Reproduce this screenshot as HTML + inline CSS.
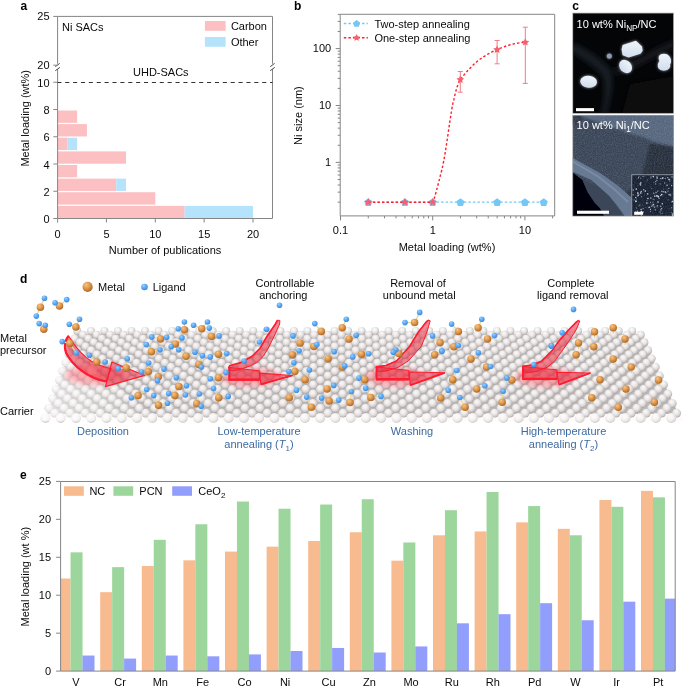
<!DOCTYPE html>
<html><head><meta charset="utf-8"><style>
html,body{margin:0;padding:0;background:#fff;width:685px;height:686px;overflow:hidden}
svg{display:block;font-family:"Liberation Sans",sans-serif;will-change:transform}
</style></head><body>
<svg width="685" height="686" viewBox="0 0 685 686">
<text x="20.50" y="9.80" font-size="12" text-anchor="start" fill="#000" font-weight="bold" >a</text>
<text x="294.00" y="9.80" font-size="12" text-anchor="start" fill="#000" font-weight="bold" >b</text>
<text x="572.20" y="10.10" font-size="12" text-anchor="start" fill="#000" font-weight="bold" >c</text>
<text x="20.00" y="283.40" font-size="12" text-anchor="start" fill="#000" font-weight="bold" >d</text>
<text x="20.00" y="478.80" font-size="12" text-anchor="start" fill="#000" font-weight="bold" >e</text>
<rect x="57.60" y="205.88" width="127.01" height="12.32" fill="#fcbfc2" />
<rect x="184.61" y="205.88" width="68.39" height="12.32" fill="#b5e3fb" />
<rect x="57.60" y="192.25" width="97.70" height="12.32" fill="#fcbfc2" />
<rect x="57.60" y="178.62" width="58.62" height="12.32" fill="#fcbfc2" />
<rect x="116.22" y="178.62" width="9.77" height="12.32" fill="#b5e3fb" />
<rect x="57.60" y="165.00" width="19.54" height="12.32" fill="#fcbfc2" />
<rect x="57.60" y="151.38" width="68.39" height="12.32" fill="#fcbfc2" />
<rect x="57.60" y="137.75" width="9.77" height="12.32" fill="#fcbfc2" />
<rect x="67.37" y="137.75" width="9.77" height="12.32" fill="#b5e3fb" />
<rect x="57.60" y="124.12" width="29.31" height="12.32" fill="#fcbfc2" />
<rect x="57.60" y="110.50" width="19.54" height="12.33" fill="#fcbfc2" />
<line x1="57.60" y1="16.40" x2="272.50" y2="16.40" stroke="#858585" stroke-width="1" />
<line x1="57.60" y1="218.50" x2="272.50" y2="218.50" stroke="#858585" stroke-width="1" />
<line x1="57.60" y1="16.40" x2="57.60" y2="63.80" stroke="#858585" stroke-width="1" />
<line x1="57.60" y1="69.20" x2="57.60" y2="218.50" stroke="#858585" stroke-width="1" />
<line x1="272.50" y1="16.40" x2="272.50" y2="63.80" stroke="#858585" stroke-width="1" />
<line x1="272.50" y1="69.20" x2="272.50" y2="218.50" stroke="#858585" stroke-width="1" />
<line x1="55.30" y1="66.70" x2="59.70" y2="63.40" stroke="#333" stroke-width="0.9" />
<line x1="55.30" y1="70.70" x2="59.90" y2="67.40" stroke="#333" stroke-width="0.9" />
<line x1="270.20" y1="66.70" x2="274.60" y2="63.40" stroke="#333" stroke-width="0.9" />
<line x1="270.20" y1="70.70" x2="274.80" y2="67.40" stroke="#333" stroke-width="0.9" />
<line x1="57.30" y1="82.40" x2="272.50" y2="82.40" stroke="#333" stroke-width="1.05" stroke-dasharray="4.1,3.78"/>
<line x1="53.30" y1="218.50" x2="57.60" y2="218.50" stroke="#858585" stroke-width="1" />
<text x="49.60" y="223.00" font-size="11" text-anchor="end" fill="#0a0a0a" font-weight="normal" >0</text>
<line x1="53.30" y1="191.25" x2="57.60" y2="191.25" stroke="#858585" stroke-width="1" />
<text x="49.60" y="195.75" font-size="11" text-anchor="end" fill="#0a0a0a" font-weight="normal" >2</text>
<line x1="53.30" y1="164.00" x2="57.60" y2="164.00" stroke="#858585" stroke-width="1" />
<text x="49.60" y="168.50" font-size="11" text-anchor="end" fill="#0a0a0a" font-weight="normal" >4</text>
<line x1="53.30" y1="136.75" x2="57.60" y2="136.75" stroke="#858585" stroke-width="1" />
<text x="49.60" y="141.25" font-size="11" text-anchor="end" fill="#0a0a0a" font-weight="normal" >6</text>
<line x1="53.30" y1="109.50" x2="57.60" y2="109.50" stroke="#858585" stroke-width="1" />
<text x="49.60" y="114.00" font-size="11" text-anchor="end" fill="#0a0a0a" font-weight="normal" >8</text>
<line x1="53.30" y1="82.25" x2="57.60" y2="82.25" stroke="#858585" stroke-width="1" />
<text x="49.60" y="86.75" font-size="11" text-anchor="end" fill="#0a0a0a" font-weight="normal" >10</text>
<line x1="53.30" y1="65.20" x2="57.60" y2="65.20" stroke="#858585" stroke-width="1" />
<text x="49.60" y="69.20" font-size="11" text-anchor="end" fill="#0a0a0a" font-weight="normal" >20</text>
<line x1="53.30" y1="16.40" x2="57.60" y2="16.40" stroke="#858585" stroke-width="1" />
<text x="49.60" y="20.40" font-size="11" text-anchor="end" fill="#0a0a0a" font-weight="normal" >25</text>
<line x1="57.60" y1="218.50" x2="57.60" y2="222.50" stroke="#858585" stroke-width="1" />
<text x="57.60" y="238.00" font-size="11" text-anchor="middle" fill="#0a0a0a" font-weight="normal" >0</text>
<line x1="106.45" y1="218.50" x2="106.45" y2="222.50" stroke="#858585" stroke-width="1" />
<text x="106.45" y="238.00" font-size="11" text-anchor="middle" fill="#0a0a0a" font-weight="normal" >5</text>
<line x1="155.30" y1="218.50" x2="155.30" y2="222.50" stroke="#858585" stroke-width="1" />
<text x="155.30" y="238.00" font-size="11" text-anchor="middle" fill="#0a0a0a" font-weight="normal" >10</text>
<line x1="204.15" y1="218.50" x2="204.15" y2="222.50" stroke="#858585" stroke-width="1" />
<text x="204.15" y="238.00" font-size="11" text-anchor="middle" fill="#0a0a0a" font-weight="normal" >15</text>
<line x1="253.00" y1="218.50" x2="253.00" y2="222.50" stroke="#858585" stroke-width="1" />
<text x="253.00" y="238.00" font-size="11" text-anchor="middle" fill="#0a0a0a" font-weight="normal" >20</text>
<text x="165.05" y="253.80" font-size="11" text-anchor="middle" fill="#0a0a0a" font-weight="normal" >Number of publications</text>
<text x="0.00" y="0.00" font-size="11" text-anchor="middle" fill="#0a0a0a" font-weight="normal" transform="translate(29.2,118.3) rotate(-90)">Metal loading (wt%)</text>
<text x="62.00" y="31.10" font-size="11" text-anchor="start" fill="#0a0a0a" font-weight="normal" >Ni SACs</text>
<text x="133.00" y="75.60" font-size="11" text-anchor="start" fill="#0a0a0a" font-weight="normal" >UHD-SACs</text>
<rect x="204.90" y="21.00" width="20.70" height="9.80" fill="#fcbfc2" />
<text x="230.90" y="30.20" font-size="11" text-anchor="start" fill="#0a0a0a" font-weight="normal" >Carbon</text>
<rect x="204.90" y="37.00" width="20.70" height="9.80" fill="#b5e3fb" />
<text x="230.90" y="46.30" font-size="11" text-anchor="start" fill="#0a0a0a" font-weight="normal" >Other</text>
<line x1="340.20" y1="14.30" x2="554.70" y2="14.30" stroke="#858585" stroke-width="1" />
<line x1="340.20" y1="215.90" x2="554.70" y2="215.90" stroke="#858585" stroke-width="1" />
<line x1="340.20" y1="14.30" x2="340.20" y2="215.90" stroke="#858585" stroke-width="1" />
<line x1="554.70" y1="14.30" x2="554.70" y2="215.90" stroke="#858585" stroke-width="1" />
<line x1="335.70" y1="162.40" x2="340.20" y2="162.40" stroke="#858585" stroke-width="1" />
<text x="331.20" y="165.90" font-size="11" text-anchor="end" fill="#0a0a0a" font-weight="normal" >1</text>
<line x1="335.70" y1="105.50" x2="340.20" y2="105.50" stroke="#858585" stroke-width="1" />
<text x="331.20" y="109.00" font-size="11" text-anchor="end" fill="#0a0a0a" font-weight="normal" >10</text>
<line x1="335.70" y1="48.60" x2="340.20" y2="48.60" stroke="#858585" stroke-width="1" />
<text x="331.20" y="52.10" font-size="11" text-anchor="end" fill="#0a0a0a" font-weight="normal" >100</text>
<line x1="337.70" y1="202.17" x2="340.20" y2="202.17" stroke="#858585" stroke-width="1" />
<line x1="337.70" y1="192.15" x2="340.20" y2="192.15" stroke="#858585" stroke-width="1" />
<line x1="337.70" y1="185.04" x2="340.20" y2="185.04" stroke="#858585" stroke-width="1" />
<line x1="337.70" y1="179.53" x2="340.20" y2="179.53" stroke="#858585" stroke-width="1" />
<line x1="337.70" y1="175.02" x2="340.20" y2="175.02" stroke="#858585" stroke-width="1" />
<line x1="337.70" y1="171.21" x2="340.20" y2="171.21" stroke="#858585" stroke-width="1" />
<line x1="337.70" y1="167.91" x2="340.20" y2="167.91" stroke="#858585" stroke-width="1" />
<line x1="337.70" y1="165.00" x2="340.20" y2="165.00" stroke="#858585" stroke-width="1" />
<line x1="337.70" y1="145.27" x2="340.20" y2="145.27" stroke="#858585" stroke-width="1" />
<line x1="337.70" y1="135.25" x2="340.20" y2="135.25" stroke="#858585" stroke-width="1" />
<line x1="337.70" y1="128.14" x2="340.20" y2="128.14" stroke="#858585" stroke-width="1" />
<line x1="337.70" y1="122.63" x2="340.20" y2="122.63" stroke="#858585" stroke-width="1" />
<line x1="337.70" y1="118.12" x2="340.20" y2="118.12" stroke="#858585" stroke-width="1" />
<line x1="337.70" y1="114.31" x2="340.20" y2="114.31" stroke="#858585" stroke-width="1" />
<line x1="337.70" y1="111.01" x2="340.20" y2="111.01" stroke="#858585" stroke-width="1" />
<line x1="337.70" y1="108.10" x2="340.20" y2="108.10" stroke="#858585" stroke-width="1" />
<line x1="337.70" y1="88.37" x2="340.20" y2="88.37" stroke="#858585" stroke-width="1" />
<line x1="337.70" y1="78.35" x2="340.20" y2="78.35" stroke="#858585" stroke-width="1" />
<line x1="337.70" y1="71.24" x2="340.20" y2="71.24" stroke="#858585" stroke-width="1" />
<line x1="337.70" y1="65.73" x2="340.20" y2="65.73" stroke="#858585" stroke-width="1" />
<line x1="337.70" y1="61.22" x2="340.20" y2="61.22" stroke="#858585" stroke-width="1" />
<line x1="337.70" y1="57.41" x2="340.20" y2="57.41" stroke="#858585" stroke-width="1" />
<line x1="337.70" y1="54.11" x2="340.20" y2="54.11" stroke="#858585" stroke-width="1" />
<line x1="337.70" y1="51.20" x2="340.20" y2="51.20" stroke="#858585" stroke-width="1" />
<line x1="337.70" y1="31.47" x2="340.20" y2="31.47" stroke="#858585" stroke-width="1" />
<line x1="337.70" y1="21.45" x2="340.20" y2="21.45" stroke="#858585" stroke-width="1" />
<line x1="337.70" y1="14.34" x2="340.20" y2="14.34" stroke="#858585" stroke-width="1" />
<line x1="340.50" y1="215.90" x2="340.50" y2="220.40" stroke="#858585" stroke-width="1" />
<text x="340.50" y="234.40" font-size="11" text-anchor="middle" fill="#0a0a0a" font-weight="normal" >0.1</text>
<line x1="432.70" y1="215.90" x2="432.70" y2="220.40" stroke="#858585" stroke-width="1" />
<text x="432.70" y="234.40" font-size="11" text-anchor="middle" fill="#0a0a0a" font-weight="normal" >1</text>
<line x1="524.90" y1="215.90" x2="524.90" y2="220.40" stroke="#858585" stroke-width="1" />
<text x="524.90" y="234.40" font-size="11" text-anchor="middle" fill="#0a0a0a" font-weight="normal" >10</text>
<line x1="368.25" y1="215.90" x2="368.25" y2="218.40" stroke="#858585" stroke-width="1" />
<line x1="384.49" y1="215.90" x2="384.49" y2="218.40" stroke="#858585" stroke-width="1" />
<line x1="396.01" y1="215.90" x2="396.01" y2="218.40" stroke="#858585" stroke-width="1" />
<line x1="404.95" y1="215.90" x2="404.95" y2="218.40" stroke="#858585" stroke-width="1" />
<line x1="412.25" y1="215.90" x2="412.25" y2="218.40" stroke="#858585" stroke-width="1" />
<line x1="418.42" y1="215.90" x2="418.42" y2="218.40" stroke="#858585" stroke-width="1" />
<line x1="423.76" y1="215.90" x2="423.76" y2="218.40" stroke="#858585" stroke-width="1" />
<line x1="428.48" y1="215.90" x2="428.48" y2="218.40" stroke="#858585" stroke-width="1" />
<line x1="460.45" y1="215.90" x2="460.45" y2="218.40" stroke="#858585" stroke-width="1" />
<line x1="476.69" y1="215.90" x2="476.69" y2="218.40" stroke="#858585" stroke-width="1" />
<line x1="488.21" y1="215.90" x2="488.21" y2="218.40" stroke="#858585" stroke-width="1" />
<line x1="497.15" y1="215.90" x2="497.15" y2="218.40" stroke="#858585" stroke-width="1" />
<line x1="504.45" y1="215.90" x2="504.45" y2="218.40" stroke="#858585" stroke-width="1" />
<line x1="510.62" y1="215.90" x2="510.62" y2="218.40" stroke="#858585" stroke-width="1" />
<line x1="515.96" y1="215.90" x2="515.96" y2="218.40" stroke="#858585" stroke-width="1" />
<line x1="520.68" y1="215.90" x2="520.68" y2="218.40" stroke="#858585" stroke-width="1" />
<line x1="552.65" y1="215.90" x2="552.65" y2="218.40" stroke="#858585" stroke-width="1" />
<text x="447.00" y="250.80" font-size="11" text-anchor="middle" fill="#0a0a0a" font-weight="normal" >Metal loading (wt%)</text>
<text x="0.00" y="0.00" font-size="11" text-anchor="middle" fill="#0a0a0a" font-weight="normal" transform="translate(302.3,115.6) rotate(-90)">Ni size (nm)</text>
<line x1="368.25" y1="202.17" x2="543.72" y2="202.17" stroke="#74c8f6" stroke-width="1.4" stroke-dasharray="2.5,2.05"/>
<polygon points="368.25,198.17 372.34,201.14 370.78,205.95 365.73,205.95 364.17,201.14" fill="#74c8f6"/>
<polygon points="404.95,198.17 409.03,201.14 407.47,205.95 402.42,205.95 400.86,201.14" fill="#74c8f6"/>
<polygon points="432.70,198.17 436.79,201.14 435.23,205.95 430.17,205.95 428.61,201.14" fill="#74c8f6"/>
<polygon points="460.45,198.17 464.54,201.14 462.98,205.95 457.93,205.95 456.37,201.14" fill="#74c8f6"/>
<polygon points="497.15,198.17 501.23,201.14 499.67,205.95 494.62,205.95 493.06,201.14" fill="#74c8f6"/>
<polygon points="524.90,198.17 528.99,201.14 527.43,205.95 522.37,205.95 520.81,201.14" fill="#74c8f6"/>
<polygon points="543.72,198.17 547.81,201.14 546.25,205.95 541.19,205.95 539.63,201.14" fill="#74c8f6"/>
<path d="M368.3,202.2 L432.7,202.2 C434.5,199 437.5,187 441.9,169.5 S451,108 453.9,99.4 C455.5,92 457.5,84 460.3,79.7 C466,72 476,60 490,53 C503,46 515,43 525.3,42.2" fill="none" stroke="#ff1f2f" stroke-width="1.4" stroke-dasharray="2.5,2.05"/>
<line x1="460.30" y1="71.50" x2="460.30" y2="92.20" stroke="#f27d85" stroke-width="1" />
<line x1="457.80" y1="71.50" x2="462.80" y2="71.50" stroke="#f27d85" stroke-width="1" />
<line x1="457.80" y1="92.20" x2="462.80" y2="92.20" stroke="#f27d85" stroke-width="1" />
<line x1="497.10" y1="40.50" x2="497.10" y2="63.80" stroke="#f27d85" stroke-width="1" />
<line x1="494.60" y1="40.50" x2="499.60" y2="40.50" stroke="#f27d85" stroke-width="1" />
<line x1="494.60" y1="63.80" x2="499.60" y2="63.80" stroke="#f27d85" stroke-width="1" />
<line x1="525.30" y1="27.20" x2="525.30" y2="83.40" stroke="#f27d85" stroke-width="1" />
<line x1="522.80" y1="27.20" x2="527.80" y2="27.20" stroke="#f27d85" stroke-width="1" />
<line x1="522.80" y1="83.40" x2="527.80" y2="83.40" stroke="#f27d85" stroke-width="1" />
<polygon points="368.25,198.07 369.46,200.51 372.15,200.90 370.20,202.80 370.66,205.49 368.25,204.22 365.85,205.49 366.31,202.80 364.36,200.90 367.05,200.51" fill="#f6606e" stroke="none" stroke-width="0"/>
<polygon points="404.95,198.07 406.15,200.51 408.84,200.90 406.89,202.80 407.35,205.49 404.95,204.22 402.54,205.49 403.00,202.80 401.05,200.90 403.74,200.51" fill="#f6606e" stroke="none" stroke-width="0"/>
<polygon points="432.70,198.07 433.90,200.51 436.60,200.90 434.65,202.80 435.11,205.49 432.70,204.22 430.29,205.49 430.75,202.80 428.80,200.90 431.50,200.51" fill="#f6606e" stroke="none" stroke-width="0"/>
<polygon points="460.30,75.60 461.50,78.04 464.20,78.43 462.25,80.33 462.71,83.02 460.30,81.75 457.89,83.02 458.35,80.33 456.40,78.43 459.10,78.04" fill="#f6606e" stroke="none" stroke-width="0"/>
<polygon points="497.10,45.60 498.30,48.04 501.00,48.43 499.05,50.33 499.51,53.02 497.10,51.75 494.69,53.02 495.15,50.33 493.20,48.43 495.90,48.04" fill="#f6606e" stroke="none" stroke-width="0"/>
<polygon points="525.30,38.20 526.50,40.64 529.20,41.03 527.25,42.93 527.71,45.62 525.30,44.35 522.89,45.62 523.35,42.93 521.40,41.03 524.10,40.64" fill="#f6606e" stroke="none" stroke-width="0"/>
<line x1="343.80" y1="23.50" x2="367.90" y2="23.50" stroke="#74c8f6" stroke-width="1.4" stroke-dasharray="2.5,2.05"/>
<polygon points="356.60,20.00 360.21,22.63 358.83,26.87 354.37,26.87 352.99,22.63" fill="#74c8f6"/>
<text x="374.40" y="27.60" font-size="11" text-anchor="start" fill="#0a0a0a" font-weight="normal" >Two-step annealing</text>
<line x1="343.80" y1="37.80" x2="367.90" y2="37.80" stroke="#ff1f2f" stroke-width="1.4" stroke-dasharray="2.5,2.05"/>
<polygon points="356.60,34.00 357.72,36.26 360.21,36.63 358.41,38.39 358.83,40.87 356.60,39.70 354.37,40.87 354.79,38.39 352.99,36.63 355.48,36.26" fill="#f6606e" stroke="none" stroke-width="0"/>
<text x="374.40" y="41.90" font-size="11" text-anchor="start" fill="#0a0a0a" font-weight="normal" >One-step annealing</text>
<clipPath id="clipE"><rect x="60.6" y="481.5" width="614.6" height="189.60000000000002"/></clipPath>
<text x="75.93" y="685.90" font-size="11" text-anchor="middle" fill="#0a0a0a" font-weight="normal" >V</text>
<text x="120.03" y="685.90" font-size="11" text-anchor="middle" fill="#0a0a0a" font-weight="normal" >Cr</text>
<text x="160.33" y="685.90" font-size="11" text-anchor="middle" fill="#0a0a0a" font-weight="normal" >Mn</text>
<text x="202.62" y="685.90" font-size="11" text-anchor="middle" fill="#0a0a0a" font-weight="normal" >Fe</text>
<text x="244.62" y="685.90" font-size="11" text-anchor="middle" fill="#0a0a0a" font-weight="normal" >Co</text>
<text x="285.13" y="685.90" font-size="11" text-anchor="middle" fill="#0a0a0a" font-weight="normal" >Ni</text>
<text x="328.53" y="685.90" font-size="11" text-anchor="middle" fill="#0a0a0a" font-weight="normal" >Cu</text>
<text x="369.53" y="685.90" font-size="11" text-anchor="middle" fill="#0a0a0a" font-weight="normal" >Zn</text>
<text x="411.03" y="685.90" font-size="11" text-anchor="middle" fill="#0a0a0a" font-weight="normal" >Mo</text>
<text x="451.73" y="685.90" font-size="11" text-anchor="middle" fill="#0a0a0a" font-weight="normal" >Ru</text>
<text x="492.73" y="685.90" font-size="11" text-anchor="middle" fill="#0a0a0a" font-weight="normal" >Rh</text>
<text x="534.62" y="685.90" font-size="11" text-anchor="middle" fill="#0a0a0a" font-weight="normal" >Pd</text>
<text x="575.33" y="685.90" font-size="11" text-anchor="middle" fill="#0a0a0a" font-weight="normal" >W</text>
<text x="616.62" y="685.90" font-size="11" text-anchor="middle" fill="#0a0a0a" font-weight="normal" >Ir</text>
<text x="658.22" y="685.90" font-size="11" text-anchor="middle" fill="#0a0a0a" font-weight="normal" >Pt</text>
<g clip-path="url(#clipE)"><rect x="58.60" y="578.53" width="12.00" height="92.57" fill="#f7bb8f"/><rect x="70.55" y="552.35" width="12.00" height="118.75" fill="#9cd69c"/><rect x="82.50" y="655.54" width="12.00" height="15.56" fill="#929efc"/><rect x="100.20" y="592.18" width="12.00" height="78.92" fill="#f7bb8f"/><rect x="112.15" y="567.14" width="12.00" height="103.96" fill="#9cd69c"/><rect x="124.10" y="658.58" width="12.00" height="12.52" fill="#929efc"/><rect x="141.80" y="566.01" width="12.00" height="105.09" fill="#f7bb8f"/><rect x="153.75" y="539.83" width="12.00" height="131.27" fill="#9cd69c"/><rect x="165.70" y="655.54" width="12.00" height="15.56" fill="#929efc"/><rect x="183.40" y="560.32" width="12.00" height="110.78" fill="#f7bb8f"/><rect x="195.35" y="524.27" width="12.00" height="146.83" fill="#9cd69c"/><rect x="207.30" y="656.30" width="12.00" height="14.80" fill="#929efc"/><rect x="225.00" y="551.59" width="12.00" height="119.51" fill="#f7bb8f"/><rect x="236.95" y="501.51" width="12.00" height="169.59" fill="#9cd69c"/><rect x="248.90" y="654.41" width="12.00" height="16.69" fill="#929efc"/><rect x="266.60" y="546.66" width="12.00" height="124.44" fill="#f7bb8f"/><rect x="278.55" y="508.72" width="12.00" height="162.38" fill="#9cd69c"/><rect x="290.50" y="650.99" width="12.00" height="20.11" fill="#929efc"/><rect x="308.20" y="540.97" width="12.00" height="130.13" fill="#f7bb8f"/><rect x="320.15" y="504.54" width="12.00" height="166.56" fill="#9cd69c"/><rect x="332.10" y="647.96" width="12.00" height="23.14" fill="#929efc"/><rect x="349.80" y="532.24" width="12.00" height="138.86" fill="#f7bb8f"/><rect x="361.75" y="499.23" width="12.00" height="171.87" fill="#9cd69c"/><rect x="373.70" y="652.51" width="12.00" height="18.59" fill="#929efc"/><rect x="391.40" y="560.69" width="12.00" height="110.41" fill="#f7bb8f"/><rect x="403.35" y="542.48" width="12.00" height="128.62" fill="#9cd69c"/><rect x="415.30" y="646.44" width="12.00" height="24.66" fill="#929efc"/><rect x="433.00" y="535.27" width="12.00" height="135.83" fill="#f7bb8f"/><rect x="444.95" y="510.23" width="12.00" height="160.87" fill="#9cd69c"/><rect x="456.90" y="623.30" width="12.00" height="47.80" fill="#929efc"/><rect x="474.60" y="531.48" width="12.00" height="139.62" fill="#f7bb8f"/><rect x="486.55" y="492.02" width="12.00" height="179.08" fill="#9cd69c"/><rect x="498.50" y="614.19" width="12.00" height="56.91" fill="#929efc"/><rect x="516.20" y="522.38" width="12.00" height="148.72" fill="#f7bb8f"/><rect x="528.15" y="506.06" width="12.00" height="165.04" fill="#9cd69c"/><rect x="540.10" y="603.19" width="12.00" height="67.91" fill="#929efc"/><rect x="557.80" y="528.83" width="12.00" height="142.27" fill="#f7bb8f"/><rect x="569.75" y="535.27" width="12.00" height="135.83" fill="#9cd69c"/><rect x="581.70" y="620.26" width="12.00" height="50.84" fill="#929efc"/><rect x="599.40" y="499.99" width="12.00" height="171.11" fill="#f7bb8f"/><rect x="611.35" y="506.82" width="12.00" height="164.28" fill="#9cd69c"/><rect x="623.30" y="601.67" width="12.00" height="69.43" fill="#929efc"/><rect x="641.00" y="490.88" width="12.00" height="180.22" fill="#f7bb8f"/><rect x="652.95" y="497.33" width="12.00" height="173.77" fill="#9cd69c"/><rect x="664.90" y="598.63" width="12.00" height="72.47" fill="#929efc"/></g>
<line x1="60.60" y1="481.50" x2="675.20" y2="481.50" stroke="#858585" stroke-width="1" />
<line x1="60.60" y1="671.10" x2="675.20" y2="671.10" stroke="#858585" stroke-width="1" />
<line x1="60.60" y1="481.50" x2="60.60" y2="671.10" stroke="#858585" stroke-width="1" />
<line x1="675.20" y1="481.50" x2="675.20" y2="671.10" stroke="#858585" stroke-width="1" />
<line x1="56.10" y1="671.10" x2="60.60" y2="671.10" stroke="#858585" stroke-width="1" />
<text x="51.10" y="675.00" font-size="11" text-anchor="end" fill="#0a0a0a" font-weight="normal" >0</text>
<line x1="56.10" y1="633.16" x2="60.60" y2="633.16" stroke="#858585" stroke-width="1" />
<text x="51.10" y="637.06" font-size="11" text-anchor="end" fill="#0a0a0a" font-weight="normal" >5</text>
<line x1="56.10" y1="595.22" x2="60.60" y2="595.22" stroke="#858585" stroke-width="1" />
<text x="51.10" y="599.12" font-size="11" text-anchor="end" fill="#0a0a0a" font-weight="normal" >10</text>
<line x1="56.10" y1="557.28" x2="60.60" y2="557.28" stroke="#858585" stroke-width="1" />
<text x="51.10" y="561.18" font-size="11" text-anchor="end" fill="#0a0a0a" font-weight="normal" >15</text>
<line x1="56.10" y1="519.34" x2="60.60" y2="519.34" stroke="#858585" stroke-width="1" />
<text x="51.10" y="523.24" font-size="11" text-anchor="end" fill="#0a0a0a" font-weight="normal" >20</text>
<line x1="56.10" y1="481.40" x2="60.60" y2="481.40" stroke="#858585" stroke-width="1" />
<text x="51.10" y="485.30" font-size="11" text-anchor="end" fill="#0a0a0a" font-weight="normal" >25</text>
<text x="0.00" y="0.00" font-size="11" text-anchor="middle" fill="#0a0a0a" font-weight="normal" transform="translate(29.0,576.7) rotate(-90)">Metal loading (wt %)</text>
<rect x="64.00" y="486.30" width="19.80" height="9.50" fill="#f7bb8f" />
<text x="89.40" y="495.20" font-size="11" text-anchor="start" fill="#0a0a0a" font-weight="normal" >NC</text>
<rect x="113.40" y="486.30" width="19.80" height="9.50" fill="#9cd69c" />
<text x="139.30" y="495.20" font-size="11" text-anchor="start" fill="#0a0a0a" font-weight="normal" >PCN</text>
<rect x="172.20" y="486.30" width="19.80" height="9.50" fill="#929efc" />
<text x="198.30" y="495.20" font-size="11" text-anchor="start" fill="#0a0a0a" font-weight="normal" >CeO<tspan font-size="8" dy="2.5">2</tspan></text><defs>
<clipPath id="cTop"><rect x="572.8" y="13.1" width="100.80000000000007" height="100.2"/></clipPath>
<clipPath id="cBot"><rect x="572.8" y="115.3" width="100.80000000000007" height="100.8"/></clipPath>
<filter id="bl15" x="-50%" y="-50%" width="200%" height="200%"><feGaussianBlur stdDeviation="1.6"/></filter>
<filter id="bl1" x="-50%" y="-50%" width="200%" height="200%"><feGaussianBlur stdDeviation="1"/></filter>
<filter id="bl3" x="-50%" y="-50%" width="200%" height="200%"><feGaussianBlur stdDeviation="2.5"/></filter>
<filter id="bl06" x="-50%" y="-50%" width="200%" height="200%"><feGaussianBlur stdDeviation="0.7"/></filter>
<filter id="noise" x="0" y="0" width="100%" height="100%">
 <feTurbulence type="fractalNoise" baseFrequency="0.9" numOctaves="2" seed="4" result="t"/>
 <feColorMatrix type="matrix" values="0 0 0 0 0.75  0 0 0 0 0.83  0 0 0 0 0.95  0 0 0 0.9 -0.3"/>
</filter>
<linearGradient id="pg" x1="0" y1="0" x2="0" y2="1"><stop offset="0" stop-color="#eef4fb"/><stop offset="1" stop-color="#d2deee"/></linearGradient>
</defs>
<g clip-path="url(#cTop)">
<rect x="572.8" y="13.1" width="100.80000000000007" height="100.2" fill="#040507"/>
<g filter="url(#bl3)">
<path d="M572,42 C588,50 602,58 611,70 C615,82 611,98 607,114 L601,114 C604,98 606,84 601,74 C591,64 580,58 572,52 Z" fill="#161a20"/>
<path d="M612,70 C630,62 652,50 675,39 L675,47 C655,58 636,68 618,75 Z" fill="#14181e"/>
<path d="M630,84 L675,76 L675,114 L622,114 Z" fill="#090a0d"/>
</g>
<g filter="url(#bl15)" opacity="0.7">
<path d="M622.6,44.9 L636,40.7 L642,46.4 L642.7,50.8 L640.5,53.8 L628.6,57.5 L622.6,55.3 L621.6,49.4 Z" fill="url(#pg)"/>
<circle cx="609.3" cy="56.1" r="2.6" fill="#8e9bb0"/>
<ellipse cx="625.6" cy="66.5" rx="7.3" ry="5.8" transform="rotate(50 625.6 66.5)" fill="url(#pg)"/>
<path d="M659,56 C661,53 667,53 669,56 C671,58 672,62 670,64.5 C671,67 669,70 665,70.6 C661,71 658,69 657.8,66 C657.6,63 659,62 659.5,61 C658.5,59.5 658.5,57.5 659,56 Z" fill="url(#pg)"/>
<ellipse cx="588.6" cy="81.8" rx="8.4" ry="6" transform="rotate(5 588.6 81.8)" fill="url(#pg)"/>
</g>
<g filter="url(#bl06)">
<path d="M622.6,44.9 L636,40.7 L642,46.4 L642.7,50.8 L640.5,53.8 L628.6,57.5 L622.6,55.3 L621.6,49.4 Z" fill="url(#pg)"/>
<circle cx="609.3" cy="56.1" r="2.6" fill="#8e9bb0"/>
<ellipse cx="625.6" cy="66.5" rx="7.3" ry="5.8" transform="rotate(50 625.6 66.5)" fill="url(#pg)"/>
<path d="M659,56 C661,53 667,53 669,56 C671,58 672,62 670,64.5 C671,67 669,70 665,70.6 C661,71 658,69 657.8,66 C657.6,63 659,62 659.5,61 C658.5,59.5 658.5,57.5 659,56 Z" fill="url(#pg)"/>
<ellipse cx="588.6" cy="81.8" rx="8.4" ry="6" transform="rotate(5 588.6 81.8)" fill="url(#pg)"/>
</g>
<rect x="576" y="108.1" width="18" height="3.1" fill="#fff"/>
</g>
<rect x="572.8" y="13.1" width="100.80000000000007" height="100.2" fill="none" stroke="#9a9a9a" stroke-width="0.7"/>
<text x="576.6" y="27.6" font-size="11" fill="#fff">10 wt% Ni<tspan font-size="8.2" dy="3.1">NP</tspan><tspan dy="-3.1">/NC</tspan></text>
<g clip-path="url(#cBot)">
<rect x="572.8" y="115.3" width="100.80000000000007" height="100.8" fill="#394456"/>
<g filter="url(#bl1)">
<path d="M570,112 L585,112 L580,122 L570,126 Z" fill="#2e3746"/>
<path d="M578,112 L676,112 L676,147 L656.1,142.4 L640.3,136.3 L622.8,131 L600,123.1 L580.8,116.1 Z" fill="#55657b"/>
<path d="M650,143 L676,147.5 L676,176 L642,176 L646,160 Z" fill="#262e3a"/>
<path d="M618,196 L634,188 L634,218 L626,218 Z" fill="#2a3240"/>
</g>
<rect x="572.8" y="115.3" width="100.80000000000007" height="100.8" filter="url(#noise)" opacity="0.35"/>
<g filter="url(#bl06)">
<path d="M570,170.4 L582.5,180 L587.8,192.3 L594.8,202.8 L600,208 L605.3,218 L570,218 Z" fill="#050608"/>
<path d="M582.5,180 L600,187 L610.5,197.5 L617.5,208 L622.8,218 L605.3,218 L600,208 L594.8,202.8 L587.8,192.3 Z" fill="#3b4658"/>
<path d="M570,156.4 L600,173 L617.5,185.3 L629.8,196 L634,200 L634,218 L626,218 L617.5,206 L608.8,195.5 L591.3,180 L570,170.4 Z" fill="#687a93"/>
<path d="M571,160.5 L598,176.5 L614,189 L628,202" fill="none" stroke="#7a8ca5" stroke-width="2"/>
</g>
<rect x="631.7" y="174.7" width="42" height="42" fill="#172030" stroke="#8d949c" stroke-width="1"/>
<rect x="632.2" y="175.2" width="41" height="41" filter="url(#noise)" opacity="0.3"/>
<g fill="#dde8f8"><circle cx="650.9" cy="198.1" r="0.81" opacity="0.68"/><circle cx="653.1" cy="199.2" r="0.44" opacity="0.71"/><circle cx="658.0" cy="207.3" r="0.40" opacity="0.58"/><circle cx="636.4" cy="208.0" r="0.70" opacity="0.43"/><circle cx="672.1" cy="214.1" r="0.68" opacity="0.77"/><circle cx="639.1" cy="176.6" r="0.61" opacity="0.44"/><circle cx="640.4" cy="185.6" r="0.37" opacity="0.68"/><circle cx="650.4" cy="209.3" r="0.61" opacity="0.78"/><circle cx="652.8" cy="202.2" r="0.58" opacity="0.57"/><circle cx="672.7" cy="215.3" r="0.77" opacity="0.82"/><circle cx="645.4" cy="185.1" r="0.49" opacity="0.44"/><circle cx="663.5" cy="191.8" r="0.77" opacity="0.63"/><circle cx="671.1" cy="209.5" r="0.35" opacity="0.53"/><circle cx="669.2" cy="194.6" r="0.84" opacity="0.64"/><circle cx="635.7" cy="200.9" r="0.74" opacity="0.56"/><circle cx="636.3" cy="189.1" r="0.83" opacity="0.85"/><circle cx="637.5" cy="185.7" r="0.40" opacity="0.44"/><circle cx="664.7" cy="183.0" r="0.63" opacity="0.67"/><circle cx="640.4" cy="204.9" r="0.42" opacity="0.79"/><circle cx="637.5" cy="192.6" r="0.46" opacity="0.56"/><circle cx="671.6" cy="207.7" r="0.50" opacity="0.93"/><circle cx="641.2" cy="191.6" r="0.78" opacity="0.79"/><circle cx="636.8" cy="215.1" r="0.46" opacity="0.55"/><circle cx="663.7" cy="189.0" r="0.50" opacity="0.44"/><circle cx="636.4" cy="199.0" r="0.47" opacity="0.76"/><circle cx="647.7" cy="193.9" r="0.83" opacity="0.69"/><circle cx="655.8" cy="210.2" r="0.44" opacity="0.49"/><circle cx="669.1" cy="208.3" r="0.47" opacity="0.51"/><circle cx="662.4" cy="213.1" r="0.45" opacity="0.97"/><circle cx="668.1" cy="199.8" r="0.56" opacity="0.46"/><circle cx="634.3" cy="214.0" r="0.47" opacity="0.82"/><circle cx="643.1" cy="208.5" r="0.65" opacity="0.58"/><circle cx="639.8" cy="204.5" r="0.38" opacity="0.54"/><circle cx="655.2" cy="209.7" r="0.66" opacity="0.57"/><circle cx="669.5" cy="184.1" r="0.36" opacity="0.56"/><circle cx="650.6" cy="178.4" r="0.44" opacity="0.62"/><circle cx="655.7" cy="181.2" r="0.53" opacity="0.93"/><circle cx="672.0" cy="201.9" r="0.70" opacity="0.75"/><circle cx="638.4" cy="177.4" r="0.36" opacity="0.95"/><circle cx="660.8" cy="214.0" r="0.36" opacity="0.78"/><circle cx="652.1" cy="204.9" r="0.51" opacity="1.00"/><circle cx="635.8" cy="197.6" r="0.72" opacity="0.94"/><circle cx="662.3" cy="203.8" r="0.75" opacity="0.95"/><circle cx="646.9" cy="203.1" r="0.80" opacity="0.92"/><circle cx="649.5" cy="207.2" r="0.78" opacity="0.74"/><circle cx="657.8" cy="191.1" r="0.64" opacity="0.77"/><circle cx="636.0" cy="201.3" r="0.85" opacity="0.93"/><circle cx="661.9" cy="191.3" r="0.72" opacity="0.75"/><circle cx="650.4" cy="209.1" r="0.39" opacity="0.85"/><circle cx="634.0" cy="199.8" r="0.59" opacity="0.54"/><circle cx="660.7" cy="195.6" r="0.66" opacity="0.95"/><circle cx="643.0" cy="176.4" r="0.50" opacity="0.81"/><circle cx="640.9" cy="182.7" r="0.80" opacity="0.80"/><circle cx="650.5" cy="211.2" r="0.51" opacity="0.80"/><circle cx="640.7" cy="193.0" r="0.75" opacity="0.95"/><circle cx="668.0" cy="191.2" r="0.64" opacity="0.59"/><circle cx="638.2" cy="195.6" r="0.77" opacity="0.91"/><circle cx="661.2" cy="213.5" r="0.49" opacity="0.50"/><circle cx="650.8" cy="186.9" r="0.46" opacity="0.65"/><circle cx="657.8" cy="195.5" r="0.51" opacity="0.90"/><circle cx="672.1" cy="193.9" r="0.39" opacity="0.42"/><circle cx="667.7" cy="177.6" r="0.70" opacity="0.74"/><circle cx="645.2" cy="207.3" r="0.36" opacity="0.48"/><circle cx="651.0" cy="177.0" r="0.76" opacity="0.54"/><circle cx="638.4" cy="177.9" r="0.66" opacity="0.67"/><circle cx="658.0" cy="201.9" r="0.75" opacity="0.98"/><circle cx="660.2" cy="183.9" r="0.59" opacity="0.51"/><circle cx="633.2" cy="194.7" r="0.71" opacity="0.51"/><circle cx="643.7" cy="189.7" r="0.70" opacity="0.71"/><circle cx="657.4" cy="205.9" r="0.55" opacity="0.88"/><circle cx="669.0" cy="179.4" r="0.82" opacity="0.83"/><circle cx="638.0" cy="193.9" r="0.66" opacity="0.95"/><circle cx="647.9" cy="198.5" r="0.79" opacity="0.88"/><circle cx="670.6" cy="194.3" r="0.68" opacity="0.52"/><circle cx="661.7" cy="208.3" r="0.67" opacity="0.83"/><circle cx="641.3" cy="211.5" r="0.84" opacity="0.99"/><circle cx="654.3" cy="207.2" r="0.51" opacity="0.95"/><circle cx="667.0" cy="189.8" r="0.39" opacity="0.66"/><circle cx="654.8" cy="206.3" r="0.59" opacity="0.42"/><circle cx="665.2" cy="178.5" r="0.75" opacity="0.50"/><circle cx="646.2" cy="207.1" r="0.42" opacity="0.49"/><circle cx="653.5" cy="204.6" r="0.77" opacity="0.81"/><circle cx="670.6" cy="195.5" r="0.82" opacity="0.45"/><circle cx="641.7" cy="196.8" r="0.50" opacity="0.84"/><circle cx="658.4" cy="196.6" r="0.77" opacity="0.74"/><circle cx="645.3" cy="191.1" r="0.77" opacity="0.94"/><circle cx="641.1" cy="209.6" r="0.83" opacity="0.71"/><circle cx="655.7" cy="183.9" r="0.62" opacity="0.70"/><circle cx="657.0" cy="177.1" r="0.83" opacity="0.71"/><circle cx="648.8" cy="207.6" r="0.63" opacity="0.69"/><circle cx="660.4" cy="178.6" r="0.62" opacity="0.65"/><circle cx="671.1" cy="212.5" r="0.48" opacity="0.68"/><circle cx="637.9" cy="193.1" r="0.76" opacity="0.94"/><circle cx="651.9" cy="188.5" r="0.45" opacity="0.77"/><circle cx="669.8" cy="181.1" r="0.74" opacity="0.41"/><circle cx="640.6" cy="185.0" r="0.69" opacity="0.59"/><circle cx="647.0" cy="200.5" r="0.40" opacity="0.84"/><circle cx="637.7" cy="196.2" r="0.48" opacity="0.52"/><circle cx="654.0" cy="193.3" r="0.54" opacity="0.65"/><circle cx="654.0" cy="182.3" r="0.45" opacity="0.78"/><circle cx="658.3" cy="196.9" r="0.78" opacity="0.77"/><circle cx="667.1" cy="185.2" r="0.72" opacity="0.89"/><circle cx="668.9" cy="188.5" r="0.51" opacity="0.95"/><circle cx="641.5" cy="215.4" r="0.79" opacity="0.48"/><circle cx="642.4" cy="204.7" r="0.48" opacity="0.46"/><circle cx="666.1" cy="192.7" r="0.74" opacity="0.48"/><circle cx="648.9" cy="203.1" r="0.36" opacity="0.52"/><circle cx="660.1" cy="212.0" r="0.83" opacity="0.47"/><circle cx="653.0" cy="205.9" r="0.60" opacity="0.81"/><circle cx="640.4" cy="178.8" r="0.40" opacity="0.42"/><circle cx="654.9" cy="196.3" r="0.63" opacity="0.49"/><circle cx="640.2" cy="184.1" r="0.77" opacity="0.99"/><circle cx="669.9" cy="179.8" r="0.38" opacity="0.97"/><circle cx="651.3" cy="206.2" r="0.51" opacity="0.68"/><circle cx="653.4" cy="193.0" r="0.65" opacity="0.41"/><circle cx="660.8" cy="209.3" r="0.44" opacity="0.67"/><circle cx="662.4" cy="192.0" r="0.45" opacity="0.50"/><circle cx="653.3" cy="176.6" r="0.80" opacity="0.88"/><circle cx="661.0" cy="210.0" r="0.66" opacity="0.64"/><circle cx="656.8" cy="195.9" r="0.84" opacity="0.88"/><circle cx="643.1" cy="212.0" r="0.72" opacity="0.87"/><circle cx="665.4" cy="192.0" r="0.80" opacity="0.93"/><circle cx="660.6" cy="206.3" r="0.73" opacity="0.64"/><circle cx="661.7" cy="178.8" r="0.52" opacity="0.68"/><circle cx="633.2" cy="190.0" r="0.67" opacity="0.77"/><circle cx="642.1" cy="213.3" r="0.68" opacity="0.60"/><circle cx="659.2" cy="198.5" r="0.62" opacity="0.63"/><circle cx="672.8" cy="201.4" r="0.70" opacity="0.86"/><circle cx="672.0" cy="176.9" r="0.66" opacity="0.84"/><circle cx="643.1" cy="191.9" r="0.38" opacity="0.52"/><circle cx="647.8" cy="179.9" r="0.48" opacity="0.94"/><circle cx="654.8" cy="196.1" r="0.83" opacity="0.74"/><circle cx="672.6" cy="201.2" r="0.75" opacity="0.45"/><circle cx="656.7" cy="206.0" r="0.37" opacity="0.96"/><circle cx="639.2" cy="194.6" r="0.43" opacity="0.70"/><circle cx="657.2" cy="178.3" r="0.82" opacity="0.65"/><circle cx="653.9" cy="199.6" r="0.53" opacity="0.57"/><circle cx="659.0" cy="198.1" r="0.49" opacity="0.83"/><circle cx="644.6" cy="176.6" r="0.47" opacity="0.43"/><circle cx="639.1" cy="205.8" r="0.54" opacity="0.94"/><circle cx="662.7" cy="178.0" r="0.84" opacity="0.97"/><circle cx="635.7" cy="211.8" r="0.56" opacity="0.69"/><circle cx="671.7" cy="185.6" r="0.61" opacity="0.96"/><circle cx="661.7" cy="194.5" r="0.84" opacity="0.89"/><circle cx="656.9" cy="180.5" r="0.66" opacity="0.67"/><circle cx="640.9" cy="178.1" r="0.61" opacity="0.47"/><circle cx="650.5" cy="202.4" r="0.58" opacity="0.56"/><circle cx="656.1" cy="192.6" r="0.74" opacity="0.72"/><circle cx="672.7" cy="213.6" r="0.72" opacity="0.54"/><circle cx="637.4" cy="211.3" r="0.74" opacity="0.77"/></g>
<rect x="577" y="210.7" width="32" height="3.1" fill="#fff"/>
<rect x="634.2" y="211.8" width="8.9" height="3" fill="#fff"/>
</g>
<rect x="572.8" y="115.3" width="100.80000000000007" height="100.8" fill="none" stroke="#9a9a9a" stroke-width="0.7"/>
<text x="576.6" y="128.6" font-size="11" fill="#fff">10 wt% Ni<tspan font-size="8.2" dy="3.1">1</tspan><tspan dy="-3.1">/NC</tspan></text><defs>
<radialGradient id="sg" cx="0.45" cy="0.4" r="0.6" fx="0.42" fy="0.3">
<stop offset="0" stop-color="#fdfdfd"/><stop offset="0.45" stop-color="#ededed"/><stop offset="0.8" stop-color="#cecece"/><stop offset="1" stop-color="#a3a3a3"/></radialGradient>
<radialGradient id="sgb" cx="0.42" cy="0.36" r="0.62" fx="0.38" fy="0.3">
<stop offset="0" stop-color="#ffffff"/><stop offset="0.5" stop-color="#f6f6f6"/><stop offset="0.8" stop-color="#e2e2e2"/><stop offset="1" stop-color="#c8c8c8"/></radialGradient>
<radialGradient id="og" cx="0.4" cy="0.35" r="0.65" fx="0.35" fy="0.28">
<stop offset="0" stop-color="#f5c685"/><stop offset="0.5" stop-color="#e19a50"/><stop offset="1" stop-color="#b06a28"/></radialGradient>
<radialGradient id="bg" cx="0.4" cy="0.35" r="0.65" fx="0.35" fy="0.28">
<stop offset="0" stop-color="#9ccffc"/><stop offset="0.55" stop-color="#5aa9f5"/><stop offset="1" stop-color="#3f8ae0"/></radialGradient>
<filter id="blur1" x="-20%" y="-20%" width="140%" height="140%"><feGaussianBlur stdDeviation="0.7"/></filter>
<filter id="blur04" x="-5%" y="-20%" width="110%" height="140%"><feGaussianBlur stdDeviation="0.35"/></filter>
<filter id="glow" x="-30%" y="-30%" width="160%" height="160%"><feGaussianBlur stdDeviation="2.5"/></filter>
</defs>
<polygon points="77.5,334.0 640.5,334.0 678.6,414.0 46.9,414.0" fill="#b6b6b6" filter="url(#blur1)"/>
<g fill="url(#sg)" filter="url(#blur1)"><circle cx="77.3" cy="331.0" r="3.95"/><circle cx="90.9" cy="331.0" r="3.95"/><circle cx="104.4" cy="331.0" r="3.95"/><circle cx="117.9" cy="331.0" r="3.95"/><circle cx="131.5" cy="331.0" r="3.95"/><circle cx="145.0" cy="331.0" r="3.95"/><circle cx="158.5" cy="331.0" r="3.95"/><circle cx="172.1" cy="331.0" r="3.95"/><circle cx="185.6" cy="331.0" r="3.95"/><circle cx="199.1" cy="331.0" r="3.95"/><circle cx="212.7" cy="331.0" r="3.95"/><circle cx="226.2" cy="331.0" r="3.95"/><circle cx="239.7" cy="331.0" r="3.95"/><circle cx="253.3" cy="331.0" r="3.95"/><circle cx="266.8" cy="331.0" r="3.95"/><circle cx="280.4" cy="331.0" r="3.95"/><circle cx="293.9" cy="331.0" r="3.95"/><circle cx="307.4" cy="331.0" r="3.95"/><circle cx="321.0" cy="331.0" r="3.95"/><circle cx="334.5" cy="331.0" r="3.95"/><circle cx="348.0" cy="331.0" r="3.95"/><circle cx="361.6" cy="331.0" r="3.95"/><circle cx="375.1" cy="331.0" r="3.95"/><circle cx="388.6" cy="331.0" r="3.95"/><circle cx="402.2" cy="331.0" r="3.95"/><circle cx="415.7" cy="331.0" r="3.95"/><circle cx="429.2" cy="331.0" r="3.95"/><circle cx="442.8" cy="331.0" r="3.95"/><circle cx="456.3" cy="331.0" r="3.95"/><circle cx="469.8" cy="331.0" r="3.95"/><circle cx="483.4" cy="331.0" r="3.95"/><circle cx="496.9" cy="331.0" r="3.95"/><circle cx="510.4" cy="331.0" r="3.95"/><circle cx="524.0" cy="331.0" r="3.95"/><circle cx="537.5" cy="331.0" r="3.95"/><circle cx="551.0" cy="331.0" r="3.95"/><circle cx="564.6" cy="331.0" r="3.95"/><circle cx="578.1" cy="331.0" r="3.95"/><circle cx="591.6" cy="331.0" r="3.95"/><circle cx="605.2" cy="331.0" r="3.95"/><circle cx="618.7" cy="331.0" r="3.95"/><circle cx="632.2" cy="331.0" r="3.95"/><circle cx="82.8" cy="334.8" r="3.98"/><circle cx="96.4" cy="334.8" r="3.98"/><circle cx="110.0" cy="334.8" r="3.98"/><circle cx="123.6" cy="334.8" r="3.98"/><circle cx="137.2" cy="334.8" r="3.98"/><circle cx="150.8" cy="334.8" r="3.98"/><circle cx="164.4" cy="334.8" r="3.98"/><circle cx="178.0" cy="334.8" r="3.98"/><circle cx="191.6" cy="334.8" r="3.98"/><circle cx="205.2" cy="334.8" r="3.98"/><circle cx="218.9" cy="334.8" r="3.98"/><circle cx="232.5" cy="334.8" r="3.98"/><circle cx="246.1" cy="334.8" r="3.98"/><circle cx="259.7" cy="334.8" r="3.98"/><circle cx="273.3" cy="334.8" r="3.98"/><circle cx="286.9" cy="334.8" r="3.98"/><circle cx="300.5" cy="334.8" r="3.98"/><circle cx="314.1" cy="334.8" r="3.98"/><circle cx="327.7" cy="334.8" r="3.98"/><circle cx="341.3" cy="334.8" r="3.98"/><circle cx="354.9" cy="334.8" r="3.98"/><circle cx="368.6" cy="334.8" r="3.98"/><circle cx="382.2" cy="334.8" r="3.98"/><circle cx="395.8" cy="334.8" r="3.98"/><circle cx="409.4" cy="334.8" r="3.98"/><circle cx="423.0" cy="334.8" r="3.98"/><circle cx="436.6" cy="334.8" r="3.98"/><circle cx="450.2" cy="334.8" r="3.98"/><circle cx="463.8" cy="334.8" r="3.98"/><circle cx="477.4" cy="334.8" r="3.98"/><circle cx="491.0" cy="334.8" r="3.98"/><circle cx="504.6" cy="334.8" r="3.98"/><circle cx="518.2" cy="334.8" r="3.98"/><circle cx="531.9" cy="334.8" r="3.98"/><circle cx="545.5" cy="334.8" r="3.98"/><circle cx="559.1" cy="334.8" r="3.98"/><circle cx="572.7" cy="334.8" r="3.98"/><circle cx="586.3" cy="334.8" r="3.98"/><circle cx="599.9" cy="334.8" r="3.98"/><circle cx="613.5" cy="334.8" r="3.98"/><circle cx="627.1" cy="334.8" r="3.98"/><circle cx="640.7" cy="334.8" r="3.98"/><circle cx="74.6" cy="338.6" r="4.00"/><circle cx="88.2" cy="338.6" r="4.00"/><circle cx="101.9" cy="338.6" r="4.00"/><circle cx="115.6" cy="338.6" r="4.00"/><circle cx="129.3" cy="338.6" r="4.00"/><circle cx="143.0" cy="338.6" r="4.00"/><circle cx="156.7" cy="338.6" r="4.00"/><circle cx="170.4" cy="338.6" r="4.00"/><circle cx="184.0" cy="338.6" r="4.00"/><circle cx="197.7" cy="338.6" r="4.00"/><circle cx="211.4" cy="338.6" r="4.00"/><circle cx="225.1" cy="338.6" r="4.00"/><circle cx="238.8" cy="338.6" r="4.00"/><circle cx="252.5" cy="338.6" r="4.00"/><circle cx="266.1" cy="338.6" r="4.00"/><circle cx="279.8" cy="338.6" r="4.00"/><circle cx="293.5" cy="338.6" r="4.00"/><circle cx="307.2" cy="338.6" r="4.00"/><circle cx="320.9" cy="338.6" r="4.00"/><circle cx="334.6" cy="338.6" r="4.00"/><circle cx="348.3" cy="338.6" r="4.00"/><circle cx="361.9" cy="338.6" r="4.00"/><circle cx="375.6" cy="338.6" r="4.00"/><circle cx="389.3" cy="338.6" r="4.00"/><circle cx="403.0" cy="338.6" r="4.00"/><circle cx="416.7" cy="338.6" r="4.00"/><circle cx="430.4" cy="338.6" r="4.00"/><circle cx="444.0" cy="338.6" r="4.00"/><circle cx="457.7" cy="338.6" r="4.00"/><circle cx="471.4" cy="338.6" r="4.00"/><circle cx="485.1" cy="338.6" r="4.00"/><circle cx="498.8" cy="338.6" r="4.00"/><circle cx="512.5" cy="338.6" r="4.00"/><circle cx="526.2" cy="338.6" r="4.00"/><circle cx="539.8" cy="338.6" r="4.00"/><circle cx="553.5" cy="338.6" r="4.00"/><circle cx="567.2" cy="338.6" r="4.00"/><circle cx="580.9" cy="338.6" r="4.00"/><circle cx="594.6" cy="338.6" r="4.00"/><circle cx="608.3" cy="338.6" r="4.00"/><circle cx="622.0" cy="338.6" r="4.00"/><circle cx="635.6" cy="338.6" r="4.00"/><circle cx="80.0" cy="342.4" r="4.03"/><circle cx="93.8" cy="342.4" r="4.03"/><circle cx="107.5" cy="342.4" r="4.03"/><circle cx="121.3" cy="342.4" r="4.03"/><circle cx="135.1" cy="342.4" r="4.03"/><circle cx="148.8" cy="342.4" r="4.03"/><circle cx="162.6" cy="342.4" r="4.03"/><circle cx="176.4" cy="342.4" r="4.03"/><circle cx="190.1" cy="342.4" r="4.03"/><circle cx="203.9" cy="342.4" r="4.03"/><circle cx="217.6" cy="342.4" r="4.03"/><circle cx="231.4" cy="342.4" r="4.03"/><circle cx="245.2" cy="342.4" r="4.03"/><circle cx="258.9" cy="342.4" r="4.03"/><circle cx="272.7" cy="342.4" r="4.03"/><circle cx="286.4" cy="342.4" r="4.03"/><circle cx="300.2" cy="342.4" r="4.03"/><circle cx="314.0" cy="342.4" r="4.03"/><circle cx="327.7" cy="342.4" r="4.03"/><circle cx="341.5" cy="342.4" r="4.03"/><circle cx="355.3" cy="342.4" r="4.03"/><circle cx="369.0" cy="342.4" r="4.03"/><circle cx="382.8" cy="342.4" r="4.03"/><circle cx="396.5" cy="342.4" r="4.03"/><circle cx="410.3" cy="342.4" r="4.03"/><circle cx="424.1" cy="342.4" r="4.03"/><circle cx="437.8" cy="342.4" r="4.03"/><circle cx="451.6" cy="342.4" r="4.03"/><circle cx="465.4" cy="342.4" r="4.03"/><circle cx="479.1" cy="342.4" r="4.03"/><circle cx="492.9" cy="342.4" r="4.03"/><circle cx="506.6" cy="342.4" r="4.03"/><circle cx="520.4" cy="342.4" r="4.03"/><circle cx="534.2" cy="342.4" r="4.03"/><circle cx="547.9" cy="342.4" r="4.03"/><circle cx="561.7" cy="342.4" r="4.03"/><circle cx="575.4" cy="342.4" r="4.03"/><circle cx="589.2" cy="342.4" r="4.03"/><circle cx="603.0" cy="342.4" r="4.03"/><circle cx="616.7" cy="342.4" r="4.03"/><circle cx="630.5" cy="342.4" r="4.03"/><circle cx="644.3" cy="342.4" r="4.03"/><circle cx="71.7" cy="346.4" r="4.06"/><circle cx="85.5" cy="346.4" r="4.06"/><circle cx="99.4" cy="346.4" r="4.06"/><circle cx="113.2" cy="346.4" r="4.06"/><circle cx="127.1" cy="346.4" r="4.06"/><circle cx="140.9" cy="346.4" r="4.06"/><circle cx="154.7" cy="346.4" r="4.06"/><circle cx="168.6" cy="346.4" r="4.06"/><circle cx="182.4" cy="346.4" r="4.06"/><circle cx="196.3" cy="346.4" r="4.06"/><circle cx="210.1" cy="346.4" r="4.06"/><circle cx="223.9" cy="346.4" r="4.06"/><circle cx="237.8" cy="346.4" r="4.06"/><circle cx="251.6" cy="346.4" r="4.06"/><circle cx="265.5" cy="346.4" r="4.06"/><circle cx="279.3" cy="346.4" r="4.06"/><circle cx="293.1" cy="346.4" r="4.06"/><circle cx="307.0" cy="346.4" r="4.06"/><circle cx="320.8" cy="346.4" r="4.06"/><circle cx="334.7" cy="346.4" r="4.06"/><circle cx="348.5" cy="346.4" r="4.06"/><circle cx="362.3" cy="346.4" r="4.06"/><circle cx="376.2" cy="346.4" r="4.06"/><circle cx="390.0" cy="346.4" r="4.06"/><circle cx="403.9" cy="346.4" r="4.06"/><circle cx="417.7" cy="346.4" r="4.06"/><circle cx="431.5" cy="346.4" r="4.06"/><circle cx="445.4" cy="346.4" r="4.06"/><circle cx="459.2" cy="346.4" r="4.06"/><circle cx="473.1" cy="346.4" r="4.06"/><circle cx="486.9" cy="346.4" r="4.06"/><circle cx="500.7" cy="346.4" r="4.06"/><circle cx="514.6" cy="346.4" r="4.06"/><circle cx="528.4" cy="346.4" r="4.06"/><circle cx="542.3" cy="346.4" r="4.06"/><circle cx="556.1" cy="346.4" r="4.06"/><circle cx="569.9" cy="346.4" r="4.06"/><circle cx="583.8" cy="346.4" r="4.06"/><circle cx="597.6" cy="346.4" r="4.06"/><circle cx="611.5" cy="346.4" r="4.06"/><circle cx="625.3" cy="346.4" r="4.06"/><circle cx="639.1" cy="346.4" r="4.06"/><circle cx="77.2" cy="350.4" r="4.09"/><circle cx="91.1" cy="350.4" r="4.09"/><circle cx="105.0" cy="350.4" r="4.09"/><circle cx="118.9" cy="350.4" r="4.09"/><circle cx="132.9" cy="350.4" r="4.09"/><circle cx="146.8" cy="350.4" r="4.09"/><circle cx="160.7" cy="350.4" r="4.09"/><circle cx="174.6" cy="350.4" r="4.09"/><circle cx="188.5" cy="350.4" r="4.09"/><circle cx="202.5" cy="350.4" r="4.09"/><circle cx="216.4" cy="350.4" r="4.09"/><circle cx="230.3" cy="350.4" r="4.09"/><circle cx="244.2" cy="350.4" r="4.09"/><circle cx="258.1" cy="350.4" r="4.09"/><circle cx="272.1" cy="350.4" r="4.09"/><circle cx="286.0" cy="350.4" r="4.09"/><circle cx="299.9" cy="350.4" r="4.09"/><circle cx="313.8" cy="350.4" r="4.09"/><circle cx="327.7" cy="350.4" r="4.09"/><circle cx="341.7" cy="350.4" r="4.09"/><circle cx="355.6" cy="350.4" r="4.09"/><circle cx="369.5" cy="350.4" r="4.09"/><circle cx="383.4" cy="350.4" r="4.09"/><circle cx="397.3" cy="350.4" r="4.09"/><circle cx="411.3" cy="350.4" r="4.09"/><circle cx="425.2" cy="350.4" r="4.09"/><circle cx="439.1" cy="350.4" r="4.09"/><circle cx="453.0" cy="350.4" r="4.09"/><circle cx="466.9" cy="350.4" r="4.09"/><circle cx="480.9" cy="350.4" r="4.09"/><circle cx="494.8" cy="350.4" r="4.09"/><circle cx="508.7" cy="350.4" r="4.09"/><circle cx="522.6" cy="350.4" r="4.09"/><circle cx="536.5" cy="350.4" r="4.09"/><circle cx="550.5" cy="350.4" r="4.09"/><circle cx="564.4" cy="350.4" r="4.09"/><circle cx="578.3" cy="350.4" r="4.09"/><circle cx="592.2" cy="350.4" r="4.09"/><circle cx="606.1" cy="350.4" r="4.09"/><circle cx="620.1" cy="350.4" r="4.09"/><circle cx="634.0" cy="350.4" r="4.09"/><circle cx="647.9" cy="350.4" r="4.09"/><circle cx="68.7" cy="354.4" r="4.12"/><circle cx="82.7" cy="354.4" r="4.12"/><circle cx="96.7" cy="354.4" r="4.12"/><circle cx="110.7" cy="354.4" r="4.12"/><circle cx="124.7" cy="354.4" r="4.12"/><circle cx="138.7" cy="354.4" r="4.12"/><circle cx="152.7" cy="354.4" r="4.12"/><circle cx="166.7" cy="354.4" r="4.12"/><circle cx="180.7" cy="354.4" r="4.12"/><circle cx="194.7" cy="354.4" r="4.12"/><circle cx="208.7" cy="354.4" r="4.12"/><circle cx="222.7" cy="354.4" r="4.12"/><circle cx="236.7" cy="354.4" r="4.12"/><circle cx="250.7" cy="354.4" r="4.12"/><circle cx="264.7" cy="354.4" r="4.12"/><circle cx="278.7" cy="354.4" r="4.12"/><circle cx="292.7" cy="354.4" r="4.12"/><circle cx="306.7" cy="354.4" r="4.12"/><circle cx="320.7" cy="354.4" r="4.12"/><circle cx="334.7" cy="354.4" r="4.12"/><circle cx="348.7" cy="354.4" r="4.12"/><circle cx="362.7" cy="354.4" r="4.12"/><circle cx="376.7" cy="354.4" r="4.12"/><circle cx="390.7" cy="354.4" r="4.12"/><circle cx="404.7" cy="354.4" r="4.12"/><circle cx="418.7" cy="354.4" r="4.12"/><circle cx="432.7" cy="354.4" r="4.12"/><circle cx="446.7" cy="354.4" r="4.12"/><circle cx="460.8" cy="354.4" r="4.12"/><circle cx="474.8" cy="354.4" r="4.12"/><circle cx="488.8" cy="354.4" r="4.12"/><circle cx="502.8" cy="354.4" r="4.12"/><circle cx="516.8" cy="354.4" r="4.12"/><circle cx="530.8" cy="354.4" r="4.12"/><circle cx="544.8" cy="354.4" r="4.12"/><circle cx="558.8" cy="354.4" r="4.12"/><circle cx="572.8" cy="354.4" r="4.12"/><circle cx="586.8" cy="354.4" r="4.12"/><circle cx="600.8" cy="354.4" r="4.12"/><circle cx="614.8" cy="354.4" r="4.12"/><circle cx="628.8" cy="354.4" r="4.12"/><circle cx="642.8" cy="354.4" r="4.12"/><circle cx="74.3" cy="358.6" r="4.14"/><circle cx="88.3" cy="358.6" r="4.14"/><circle cx="102.4" cy="358.6" r="4.14"/><circle cx="116.5" cy="358.6" r="4.14"/><circle cx="130.6" cy="358.6" r="4.14"/><circle cx="144.7" cy="358.6" r="4.14"/><circle cx="158.8" cy="358.6" r="4.14"/><circle cx="172.8" cy="358.6" r="4.14"/><circle cx="186.9" cy="358.6" r="4.14"/><circle cx="201.0" cy="358.6" r="4.14"/><circle cx="215.1" cy="358.6" r="4.14"/><circle cx="229.2" cy="358.6" r="4.14"/><circle cx="243.3" cy="358.6" r="4.14"/><circle cx="257.3" cy="358.6" r="4.14"/><circle cx="271.4" cy="358.6" r="4.14"/><circle cx="285.5" cy="358.6" r="4.14"/><circle cx="299.6" cy="358.6" r="4.14"/><circle cx="313.7" cy="358.6" r="4.14"/><circle cx="327.7" cy="358.6" r="4.14"/><circle cx="341.8" cy="358.6" r="4.14"/><circle cx="355.9" cy="358.6" r="4.14"/><circle cx="370.0" cy="358.6" r="4.14"/><circle cx="384.1" cy="358.6" r="4.14"/><circle cx="398.2" cy="358.6" r="4.14"/><circle cx="412.2" cy="358.6" r="4.14"/><circle cx="426.3" cy="358.6" r="4.14"/><circle cx="440.4" cy="358.6" r="4.14"/><circle cx="454.5" cy="358.6" r="4.14"/><circle cx="468.6" cy="358.6" r="4.14"/><circle cx="482.7" cy="358.6" r="4.14"/><circle cx="496.7" cy="358.6" r="4.14"/><circle cx="510.8" cy="358.6" r="4.14"/><circle cx="524.9" cy="358.6" r="4.14"/><circle cx="539.0" cy="358.6" r="4.14"/><circle cx="553.1" cy="358.6" r="4.14"/><circle cx="567.2" cy="358.6" r="4.14"/><circle cx="581.2" cy="358.6" r="4.14"/><circle cx="595.3" cy="358.6" r="4.14"/><circle cx="609.4" cy="358.6" r="4.14"/><circle cx="623.5" cy="358.6" r="4.14"/><circle cx="637.6" cy="358.6" r="4.14"/><circle cx="651.6" cy="358.6" r="4.14"/><circle cx="65.7" cy="362.8" r="4.17"/><circle cx="79.8" cy="362.8" r="4.17"/><circle cx="94.0" cy="362.8" r="4.17"/><circle cx="108.2" cy="362.8" r="4.17"/><circle cx="122.3" cy="362.8" r="4.17"/><circle cx="136.5" cy="362.8" r="4.17"/><circle cx="150.7" cy="362.8" r="4.17"/><circle cx="164.8" cy="362.8" r="4.17"/><circle cx="179.0" cy="362.8" r="4.17"/><circle cx="193.2" cy="362.8" r="4.17"/><circle cx="207.3" cy="362.8" r="4.17"/><circle cx="221.5" cy="362.8" r="4.17"/><circle cx="235.7" cy="362.8" r="4.17"/><circle cx="249.8" cy="362.8" r="4.17"/><circle cx="264.0" cy="362.8" r="4.17"/><circle cx="278.2" cy="362.8" r="4.17"/><circle cx="292.3" cy="362.8" r="4.17"/><circle cx="306.5" cy="362.8" r="4.17"/><circle cx="320.7" cy="362.8" r="4.17"/><circle cx="334.8" cy="362.8" r="4.17"/><circle cx="349.0" cy="362.8" r="4.17"/><circle cx="363.2" cy="362.8" r="4.17"/><circle cx="377.3" cy="362.8" r="4.17"/><circle cx="391.5" cy="362.8" r="4.17"/><circle cx="405.7" cy="362.8" r="4.17"/><circle cx="419.8" cy="362.8" r="4.17"/><circle cx="434.0" cy="362.8" r="4.17"/><circle cx="448.2" cy="362.8" r="4.17"/><circle cx="462.3" cy="362.8" r="4.17"/><circle cx="476.5" cy="362.8" r="4.17"/><circle cx="490.7" cy="362.8" r="4.17"/><circle cx="504.8" cy="362.8" r="4.17"/><circle cx="519.0" cy="362.8" r="4.17"/><circle cx="533.2" cy="362.8" r="4.17"/><circle cx="547.3" cy="362.8" r="4.17"/><circle cx="561.5" cy="362.8" r="4.17"/><circle cx="575.7" cy="362.8" r="4.17"/><circle cx="589.8" cy="362.8" r="4.17"/><circle cx="604.0" cy="362.8" r="4.17"/><circle cx="618.2" cy="362.8" r="4.17"/><circle cx="632.3" cy="362.8" r="4.17"/><circle cx="646.5" cy="362.8" r="4.17"/><circle cx="71.2" cy="367.0" r="4.20"/><circle cx="85.5" cy="367.0" r="4.20"/><circle cx="99.7" cy="367.0" r="4.20"/><circle cx="114.0" cy="367.0" r="4.20"/><circle cx="128.2" cy="367.0" r="4.20"/><circle cx="142.5" cy="367.0" r="4.20"/><circle cx="156.8" cy="367.0" r="4.20"/><circle cx="171.0" cy="367.0" r="4.20"/><circle cx="185.3" cy="367.0" r="4.20"/><circle cx="199.5" cy="367.0" r="4.20"/><circle cx="213.8" cy="367.0" r="4.20"/><circle cx="228.0" cy="367.0" r="4.20"/><circle cx="242.3" cy="367.0" r="4.20"/><circle cx="256.5" cy="367.0" r="4.20"/><circle cx="270.8" cy="367.0" r="4.20"/><circle cx="285.0" cy="367.0" r="4.20"/><circle cx="299.3" cy="367.0" r="4.20"/><circle cx="313.5" cy="367.0" r="4.20"/><circle cx="327.8" cy="367.0" r="4.20"/><circle cx="342.0" cy="367.0" r="4.20"/><circle cx="356.3" cy="367.0" r="4.20"/><circle cx="370.5" cy="367.0" r="4.20"/><circle cx="384.8" cy="367.0" r="4.20"/><circle cx="399.0" cy="367.0" r="4.20"/><circle cx="413.3" cy="367.0" r="4.20"/><circle cx="427.5" cy="367.0" r="4.20"/><circle cx="441.8" cy="367.0" r="4.20"/><circle cx="456.0" cy="367.0" r="4.20"/><circle cx="470.3" cy="367.0" r="4.20"/><circle cx="484.5" cy="367.0" r="4.20"/><circle cx="498.8" cy="367.0" r="4.20"/><circle cx="513.0" cy="367.0" r="4.20"/><circle cx="527.3" cy="367.0" r="4.20"/><circle cx="541.5" cy="367.0" r="4.20"/><circle cx="555.8" cy="367.0" r="4.20"/><circle cx="570.0" cy="367.0" r="4.20"/><circle cx="584.3" cy="367.0" r="4.20"/><circle cx="598.5" cy="367.0" r="4.20"/><circle cx="612.8" cy="367.0" r="4.20"/><circle cx="627.0" cy="367.0" r="4.20"/><circle cx="641.3" cy="367.0" r="4.20"/><circle cx="655.5" cy="367.0" r="4.20"/><circle cx="62.5" cy="371.3" r="4.23"/><circle cx="76.9" cy="371.3" r="4.23"/><circle cx="91.2" cy="371.3" r="4.23"/><circle cx="105.5" cy="371.3" r="4.23"/><circle cx="119.9" cy="371.3" r="4.23"/><circle cx="134.2" cy="371.3" r="4.23"/><circle cx="148.6" cy="371.3" r="4.23"/><circle cx="162.9" cy="371.3" r="4.23"/><circle cx="177.2" cy="371.3" r="4.23"/><circle cx="191.6" cy="371.3" r="4.23"/><circle cx="205.9" cy="371.3" r="4.23"/><circle cx="220.2" cy="371.3" r="4.23"/><circle cx="234.6" cy="371.3" r="4.23"/><circle cx="248.9" cy="371.3" r="4.23"/><circle cx="263.2" cy="371.3" r="4.23"/><circle cx="277.6" cy="371.3" r="4.23"/><circle cx="291.9" cy="371.3" r="4.23"/><circle cx="306.3" cy="371.3" r="4.23"/><circle cx="320.6" cy="371.3" r="4.23"/><circle cx="334.9" cy="371.3" r="4.23"/><circle cx="349.3" cy="371.3" r="4.23"/><circle cx="363.6" cy="371.3" r="4.23"/><circle cx="377.9" cy="371.3" r="4.23"/><circle cx="392.3" cy="371.3" r="4.23"/><circle cx="406.6" cy="371.3" r="4.23"/><circle cx="420.9" cy="371.3" r="4.23"/><circle cx="435.3" cy="371.3" r="4.23"/><circle cx="449.6" cy="371.3" r="4.23"/><circle cx="464.0" cy="371.3" r="4.23"/><circle cx="478.3" cy="371.3" r="4.23"/><circle cx="492.6" cy="371.3" r="4.23"/><circle cx="507.0" cy="371.3" r="4.23"/><circle cx="521.3" cy="371.3" r="4.23"/><circle cx="535.6" cy="371.3" r="4.23"/><circle cx="550.0" cy="371.3" r="4.23"/><circle cx="564.3" cy="371.3" r="4.23"/><circle cx="578.7" cy="371.3" r="4.23"/><circle cx="593.0" cy="371.3" r="4.23"/><circle cx="607.3" cy="371.3" r="4.23"/><circle cx="621.7" cy="371.3" r="4.23"/><circle cx="636.0" cy="371.3" r="4.23"/><circle cx="650.3" cy="371.3" r="4.23"/><circle cx="68.1" cy="375.7" r="4.25"/><circle cx="82.6" cy="375.7" r="4.25"/><circle cx="97.0" cy="375.7" r="4.25"/><circle cx="111.4" cy="375.7" r="4.25"/><circle cx="125.8" cy="375.7" r="4.25"/><circle cx="140.3" cy="375.7" r="4.25"/><circle cx="154.7" cy="375.7" r="4.25"/><circle cx="169.1" cy="375.7" r="4.25"/><circle cx="183.5" cy="375.7" r="4.25"/><circle cx="198.0" cy="375.7" r="4.25"/><circle cx="212.4" cy="375.7" r="4.25"/><circle cx="226.8" cy="375.7" r="4.25"/><circle cx="241.2" cy="375.7" r="4.25"/><circle cx="255.6" cy="375.7" r="4.25"/><circle cx="270.1" cy="375.7" r="4.25"/><circle cx="284.5" cy="375.7" r="4.25"/><circle cx="298.9" cy="375.7" r="4.25"/><circle cx="313.3" cy="375.7" r="4.25"/><circle cx="327.8" cy="375.7" r="4.25"/><circle cx="342.2" cy="375.7" r="4.25"/><circle cx="356.6" cy="375.7" r="4.25"/><circle cx="371.0" cy="375.7" r="4.25"/><circle cx="385.5" cy="375.7" r="4.25"/><circle cx="399.9" cy="375.7" r="4.25"/><circle cx="414.3" cy="375.7" r="4.25"/><circle cx="428.7" cy="375.7" r="4.25"/><circle cx="443.2" cy="375.7" r="4.25"/><circle cx="457.6" cy="375.7" r="4.25"/><circle cx="472.0" cy="375.7" r="4.25"/><circle cx="486.4" cy="375.7" r="4.25"/><circle cx="500.8" cy="375.7" r="4.25"/><circle cx="515.3" cy="375.7" r="4.25"/><circle cx="529.7" cy="375.7" r="4.25"/><circle cx="544.1" cy="375.7" r="4.25"/><circle cx="558.5" cy="375.7" r="4.25"/><circle cx="573.0" cy="375.7" r="4.25"/><circle cx="587.4" cy="375.7" r="4.25"/><circle cx="601.8" cy="375.7" r="4.25"/><circle cx="616.2" cy="375.7" r="4.25"/><circle cx="630.7" cy="375.7" r="4.25"/><circle cx="645.1" cy="375.7" r="4.25"/><circle cx="659.5" cy="375.7" r="4.25"/><circle cx="59.3" cy="380.2" r="4.28"/><circle cx="73.8" cy="380.2" r="4.28"/><circle cx="88.3" cy="380.2" r="4.28"/><circle cx="102.8" cy="380.2" r="4.28"/><circle cx="117.3" cy="380.2" r="4.28"/><circle cx="131.9" cy="380.2" r="4.28"/><circle cx="146.4" cy="380.2" r="4.28"/><circle cx="160.9" cy="380.2" r="4.28"/><circle cx="175.4" cy="380.2" r="4.28"/><circle cx="189.9" cy="380.2" r="4.28"/><circle cx="204.4" cy="380.2" r="4.28"/><circle cx="218.9" cy="380.2" r="4.28"/><circle cx="233.4" cy="380.2" r="4.28"/><circle cx="248.0" cy="380.2" r="4.28"/><circle cx="262.5" cy="380.2" r="4.28"/><circle cx="277.0" cy="380.2" r="4.28"/><circle cx="291.5" cy="380.2" r="4.28"/><circle cx="306.0" cy="380.2" r="4.28"/><circle cx="320.5" cy="380.2" r="4.28"/><circle cx="335.0" cy="380.2" r="4.28"/><circle cx="349.5" cy="380.2" r="4.28"/><circle cx="364.1" cy="380.2" r="4.28"/><circle cx="378.6" cy="380.2" r="4.28"/><circle cx="393.1" cy="380.2" r="4.28"/><circle cx="407.6" cy="380.2" r="4.28"/><circle cx="422.1" cy="380.2" r="4.28"/><circle cx="436.6" cy="380.2" r="4.28"/><circle cx="451.1" cy="380.2" r="4.28"/><circle cx="465.6" cy="380.2" r="4.28"/><circle cx="480.1" cy="380.2" r="4.28"/><circle cx="494.7" cy="380.2" r="4.28"/><circle cx="509.2" cy="380.2" r="4.28"/><circle cx="523.7" cy="380.2" r="4.28"/><circle cx="538.2" cy="380.2" r="4.28"/><circle cx="552.7" cy="380.2" r="4.28"/><circle cx="567.2" cy="380.2" r="4.28"/><circle cx="581.7" cy="380.2" r="4.28"/><circle cx="596.2" cy="380.2" r="4.28"/><circle cx="610.8" cy="380.2" r="4.28"/><circle cx="625.3" cy="380.2" r="4.28"/><circle cx="639.8" cy="380.2" r="4.28"/><circle cx="654.3" cy="380.2" r="4.28"/><circle cx="64.9" cy="384.7" r="4.31"/><circle cx="79.5" cy="384.7" r="4.31"/><circle cx="94.2" cy="384.7" r="4.31"/><circle cx="108.8" cy="384.7" r="4.31"/><circle cx="123.4" cy="384.7" r="4.31"/><circle cx="138.0" cy="384.7" r="4.31"/><circle cx="152.6" cy="384.7" r="4.31"/><circle cx="167.2" cy="384.7" r="4.31"/><circle cx="181.8" cy="384.7" r="4.31"/><circle cx="196.4" cy="384.7" r="4.31"/><circle cx="211.0" cy="384.7" r="4.31"/><circle cx="225.6" cy="384.7" r="4.31"/><circle cx="240.2" cy="384.7" r="4.31"/><circle cx="254.8" cy="384.7" r="4.31"/><circle cx="269.4" cy="384.7" r="4.31"/><circle cx="284.0" cy="384.7" r="4.31"/><circle cx="298.6" cy="384.7" r="4.31"/><circle cx="313.2" cy="384.7" r="4.31"/><circle cx="327.8" cy="384.7" r="4.31"/><circle cx="342.4" cy="384.7" r="4.31"/><circle cx="357.0" cy="384.7" r="4.31"/><circle cx="371.6" cy="384.7" r="4.31"/><circle cx="386.2" cy="384.7" r="4.31"/><circle cx="400.8" cy="384.7" r="4.31"/><circle cx="415.4" cy="384.7" r="4.31"/><circle cx="430.0" cy="384.7" r="4.31"/><circle cx="444.6" cy="384.7" r="4.31"/><circle cx="459.2" cy="384.7" r="4.31"/><circle cx="473.8" cy="384.7" r="4.31"/><circle cx="488.4" cy="384.7" r="4.31"/><circle cx="503.0" cy="384.7" r="4.31"/><circle cx="517.6" cy="384.7" r="4.31"/><circle cx="532.2" cy="384.7" r="4.31"/><circle cx="546.8" cy="384.7" r="4.31"/><circle cx="561.4" cy="384.7" r="4.31"/><circle cx="576.0" cy="384.7" r="4.31"/><circle cx="590.6" cy="384.7" r="4.31"/><circle cx="605.2" cy="384.7" r="4.31"/><circle cx="619.8" cy="384.7" r="4.31"/><circle cx="634.4" cy="384.7" r="4.31"/><circle cx="649.0" cy="384.7" r="4.31"/><circle cx="663.6" cy="384.7" r="4.31"/><circle cx="56.0" cy="389.2" r="4.33"/><circle cx="70.7" cy="389.2" r="4.33"/><circle cx="85.4" cy="389.2" r="4.33"/><circle cx="100.0" cy="389.2" r="4.33"/><circle cx="114.7" cy="389.2" r="4.33"/><circle cx="129.4" cy="389.2" r="4.33"/><circle cx="144.1" cy="389.2" r="4.33"/><circle cx="158.8" cy="389.2" r="4.33"/><circle cx="173.5" cy="389.2" r="4.33"/><circle cx="188.2" cy="389.2" r="4.33"/><circle cx="202.9" cy="389.2" r="4.33"/><circle cx="217.6" cy="389.2" r="4.33"/><circle cx="232.3" cy="389.2" r="4.33"/><circle cx="247.0" cy="389.2" r="4.33"/><circle cx="261.7" cy="389.2" r="4.33"/><circle cx="276.4" cy="389.2" r="4.33"/><circle cx="291.0" cy="389.2" r="4.33"/><circle cx="305.7" cy="389.2" r="4.33"/><circle cx="320.4" cy="389.2" r="4.33"/><circle cx="335.1" cy="389.2" r="4.33"/><circle cx="349.8" cy="389.2" r="4.33"/><circle cx="364.5" cy="389.2" r="4.33"/><circle cx="379.2" cy="389.2" r="4.33"/><circle cx="393.9" cy="389.2" r="4.33"/><circle cx="408.6" cy="389.2" r="4.33"/><circle cx="423.3" cy="389.2" r="4.33"/><circle cx="438.0" cy="389.2" r="4.33"/><circle cx="452.7" cy="389.2" r="4.33"/><circle cx="467.4" cy="389.2" r="4.33"/><circle cx="482.1" cy="389.2" r="4.33"/><circle cx="496.7" cy="389.2" r="4.33"/><circle cx="511.4" cy="389.2" r="4.33"/><circle cx="526.1" cy="389.2" r="4.33"/><circle cx="540.8" cy="389.2" r="4.33"/><circle cx="555.5" cy="389.2" r="4.33"/><circle cx="570.2" cy="389.2" r="4.33"/><circle cx="584.9" cy="389.2" r="4.33"/><circle cx="599.6" cy="389.2" r="4.33"/><circle cx="614.3" cy="389.2" r="4.33"/><circle cx="629.0" cy="389.2" r="4.33"/><circle cx="643.7" cy="389.2" r="4.33"/><circle cx="658.4" cy="389.2" r="4.33"/><circle cx="61.7" cy="393.9" r="4.36"/><circle cx="76.4" cy="393.9" r="4.36"/><circle cx="91.2" cy="393.9" r="4.36"/><circle cx="106.0" cy="393.9" r="4.36"/><circle cx="120.8" cy="393.9" r="4.36"/><circle cx="135.6" cy="393.9" r="4.36"/><circle cx="150.4" cy="393.9" r="4.36"/><circle cx="165.2" cy="393.9" r="4.36"/><circle cx="179.9" cy="393.9" r="4.36"/><circle cx="194.7" cy="393.9" r="4.36"/><circle cx="209.5" cy="393.9" r="4.36"/><circle cx="224.3" cy="393.9" r="4.36"/><circle cx="239.1" cy="393.9" r="4.36"/><circle cx="253.9" cy="393.9" r="4.36"/><circle cx="268.6" cy="393.9" r="4.36"/><circle cx="283.4" cy="393.9" r="4.36"/><circle cx="298.2" cy="393.9" r="4.36"/><circle cx="313.0" cy="393.9" r="4.36"/><circle cx="327.8" cy="393.9" r="4.36"/><circle cx="342.6" cy="393.9" r="4.36"/><circle cx="357.4" cy="393.9" r="4.36"/><circle cx="372.1" cy="393.9" r="4.36"/><circle cx="386.9" cy="393.9" r="4.36"/><circle cx="401.7" cy="393.9" r="4.36"/><circle cx="416.5" cy="393.9" r="4.36"/><circle cx="431.3" cy="393.9" r="4.36"/><circle cx="446.1" cy="393.9" r="4.36"/><circle cx="460.8" cy="393.9" r="4.36"/><circle cx="475.6" cy="393.9" r="4.36"/><circle cx="490.4" cy="393.9" r="4.36"/><circle cx="505.2" cy="393.9" r="4.36"/><circle cx="520.0" cy="393.9" r="4.36"/><circle cx="534.8" cy="393.9" r="4.36"/><circle cx="549.6" cy="393.9" r="4.36"/><circle cx="564.3" cy="393.9" r="4.36"/><circle cx="579.1" cy="393.9" r="4.36"/><circle cx="593.9" cy="393.9" r="4.36"/><circle cx="608.7" cy="393.9" r="4.36"/><circle cx="623.5" cy="393.9" r="4.36"/><circle cx="638.3" cy="393.9" r="4.36"/><circle cx="653.0" cy="393.9" r="4.36"/><circle cx="667.8" cy="393.9" r="4.36"/><circle cx="52.5" cy="398.6" r="4.39"/><circle cx="67.4" cy="398.6" r="4.39"/><circle cx="82.3" cy="398.6" r="4.39"/><circle cx="97.2" cy="398.6" r="4.39"/><circle cx="112.1" cy="398.6" r="4.39"/><circle cx="126.9" cy="398.6" r="4.39"/><circle cx="141.8" cy="398.6" r="4.39"/><circle cx="156.7" cy="398.6" r="4.39"/><circle cx="171.6" cy="398.6" r="4.39"/><circle cx="186.4" cy="398.6" r="4.39"/><circle cx="201.3" cy="398.6" r="4.39"/><circle cx="216.2" cy="398.6" r="4.39"/><circle cx="231.1" cy="398.6" r="4.39"/><circle cx="246.0" cy="398.6" r="4.39"/><circle cx="260.8" cy="398.6" r="4.39"/><circle cx="275.7" cy="398.6" r="4.39"/><circle cx="290.6" cy="398.6" r="4.39"/><circle cx="305.5" cy="398.6" r="4.39"/><circle cx="320.4" cy="398.6" r="4.39"/><circle cx="335.2" cy="398.6" r="4.39"/><circle cx="350.1" cy="398.6" r="4.39"/><circle cx="365.0" cy="398.6" r="4.39"/><circle cx="379.9" cy="398.6" r="4.39"/><circle cx="394.7" cy="398.6" r="4.39"/><circle cx="409.6" cy="398.6" r="4.39"/><circle cx="424.5" cy="398.6" r="4.39"/><circle cx="439.4" cy="398.6" r="4.39"/><circle cx="454.3" cy="398.6" r="4.39"/><circle cx="469.1" cy="398.6" r="4.39"/><circle cx="484.0" cy="398.6" r="4.39"/><circle cx="498.9" cy="398.6" r="4.39"/><circle cx="513.8" cy="398.6" r="4.39"/><circle cx="528.6" cy="398.6" r="4.39"/><circle cx="543.5" cy="398.6" r="4.39"/><circle cx="558.4" cy="398.6" r="4.39"/><circle cx="573.3" cy="398.6" r="4.39"/><circle cx="588.2" cy="398.6" r="4.39"/><circle cx="603.0" cy="398.6" r="4.39"/><circle cx="617.9" cy="398.6" r="4.39"/><circle cx="632.8" cy="398.6" r="4.39"/><circle cx="647.7" cy="398.6" r="4.39"/><circle cx="662.5" cy="398.6" r="4.39"/><circle cx="58.3" cy="403.3" r="4.42"/><circle cx="73.3" cy="403.3" r="4.42"/><circle cx="88.2" cy="403.3" r="4.42"/><circle cx="103.2" cy="403.3" r="4.42"/><circle cx="118.2" cy="403.3" r="4.42"/><circle cx="133.2" cy="403.3" r="4.42"/><circle cx="148.1" cy="403.3" r="4.42"/><circle cx="163.1" cy="403.3" r="4.42"/><circle cx="178.1" cy="403.3" r="4.42"/><circle cx="193.0" cy="403.3" r="4.42"/><circle cx="208.0" cy="403.3" r="4.42"/><circle cx="223.0" cy="403.3" r="4.42"/><circle cx="238.0" cy="403.3" r="4.42"/><circle cx="252.9" cy="403.3" r="4.42"/><circle cx="267.9" cy="403.3" r="4.42"/><circle cx="282.9" cy="403.3" r="4.42"/><circle cx="297.8" cy="403.3" r="4.42"/><circle cx="312.8" cy="403.3" r="4.42"/><circle cx="327.8" cy="403.3" r="4.42"/><circle cx="342.8" cy="403.3" r="4.42"/><circle cx="357.7" cy="403.3" r="4.42"/><circle cx="372.7" cy="403.3" r="4.42"/><circle cx="387.7" cy="403.3" r="4.42"/><circle cx="402.7" cy="403.3" r="4.42"/><circle cx="417.6" cy="403.3" r="4.42"/><circle cx="432.6" cy="403.3" r="4.42"/><circle cx="447.6" cy="403.3" r="4.42"/><circle cx="462.5" cy="403.3" r="4.42"/><circle cx="477.5" cy="403.3" r="4.42"/><circle cx="492.5" cy="403.3" r="4.42"/><circle cx="507.5" cy="403.3" r="4.42"/><circle cx="522.4" cy="403.3" r="4.42"/><circle cx="537.4" cy="403.3" r="4.42"/><circle cx="552.4" cy="403.3" r="4.42"/><circle cx="567.4" cy="403.3" r="4.42"/><circle cx="582.3" cy="403.3" r="4.42"/><circle cx="597.3" cy="403.3" r="4.42"/><circle cx="612.3" cy="403.3" r="4.42"/><circle cx="627.2" cy="403.3" r="4.42"/><circle cx="642.2" cy="403.3" r="4.42"/><circle cx="657.2" cy="403.3" r="4.42"/><circle cx="672.2" cy="403.3" r="4.42"/><circle cx="49.0" cy="408.2" r="4.45"/><circle cx="64.1" cy="408.2" r="4.45"/><circle cx="79.2" cy="408.2" r="4.45"/><circle cx="94.2" cy="408.2" r="4.45"/><circle cx="109.3" cy="408.2" r="4.45"/><circle cx="124.4" cy="408.2" r="4.45"/><circle cx="139.4" cy="408.2" r="4.45"/><circle cx="154.5" cy="408.2" r="4.45"/><circle cx="169.6" cy="408.2" r="4.45"/><circle cx="184.6" cy="408.2" r="4.45"/><circle cx="199.7" cy="408.2" r="4.45"/><circle cx="214.8" cy="408.2" r="4.45"/><circle cx="229.9" cy="408.2" r="4.45"/><circle cx="244.9" cy="408.2" r="4.45"/><circle cx="260.0" cy="408.2" r="4.45"/><circle cx="275.1" cy="408.2" r="4.45"/><circle cx="290.1" cy="408.2" r="4.45"/><circle cx="305.2" cy="408.2" r="4.45"/><circle cx="320.3" cy="408.2" r="4.45"/><circle cx="335.3" cy="408.2" r="4.45"/><circle cx="350.4" cy="408.2" r="4.45"/><circle cx="365.5" cy="408.2" r="4.45"/><circle cx="380.5" cy="408.2" r="4.45"/><circle cx="395.6" cy="408.2" r="4.45"/><circle cx="410.7" cy="408.2" r="4.45"/><circle cx="425.7" cy="408.2" r="4.45"/><circle cx="440.8" cy="408.2" r="4.45"/><circle cx="455.9" cy="408.2" r="4.45"/><circle cx="471.0" cy="408.2" r="4.45"/><circle cx="486.0" cy="408.2" r="4.45"/><circle cx="501.1" cy="408.2" r="4.45"/><circle cx="516.2" cy="408.2" r="4.45"/><circle cx="531.2" cy="408.2" r="4.45"/><circle cx="546.3" cy="408.2" r="4.45"/><circle cx="561.4" cy="408.2" r="4.45"/><circle cx="576.4" cy="408.2" r="4.45"/><circle cx="591.5" cy="408.2" r="4.45"/><circle cx="606.6" cy="408.2" r="4.45"/><circle cx="621.6" cy="408.2" r="4.45"/><circle cx="636.7" cy="408.2" r="4.45"/><circle cx="651.8" cy="408.2" r="4.45"/><circle cx="666.8" cy="408.2" r="4.45"/><circle cx="54.8" cy="413.1" r="4.47"/><circle cx="70.0" cy="413.1" r="4.47"/><circle cx="85.2" cy="413.1" r="4.47"/><circle cx="100.3" cy="413.1" r="4.47"/><circle cx="115.5" cy="413.1" r="4.47"/><circle cx="130.7" cy="413.1" r="4.47"/><circle cx="145.8" cy="413.1" r="4.47"/><circle cx="161.0" cy="413.1" r="4.47"/><circle cx="176.1" cy="413.1" r="4.47"/><circle cx="191.3" cy="413.1" r="4.47"/><circle cx="206.5" cy="413.1" r="4.47"/><circle cx="221.6" cy="413.1" r="4.47"/><circle cx="236.8" cy="413.1" r="4.47"/><circle cx="252.0" cy="413.1" r="4.47"/><circle cx="267.1" cy="413.1" r="4.47"/><circle cx="282.3" cy="413.1" r="4.47"/><circle cx="297.5" cy="413.1" r="4.47"/><circle cx="312.6" cy="413.1" r="4.47"/><circle cx="327.8" cy="413.1" r="4.47"/><circle cx="343.0" cy="413.1" r="4.47"/><circle cx="358.1" cy="413.1" r="4.47"/><circle cx="373.3" cy="413.1" r="4.47"/><circle cx="388.5" cy="413.1" r="4.47"/><circle cx="403.6" cy="413.1" r="4.47"/><circle cx="418.8" cy="413.1" r="4.47"/><circle cx="434.0" cy="413.1" r="4.47"/><circle cx="449.1" cy="413.1" r="4.47"/><circle cx="464.3" cy="413.1" r="4.47"/><circle cx="479.5" cy="413.1" r="4.47"/><circle cx="494.6" cy="413.1" r="4.47"/><circle cx="509.8" cy="413.1" r="4.47"/><circle cx="525.0" cy="413.1" r="4.47"/><circle cx="540.1" cy="413.1" r="4.47"/><circle cx="555.3" cy="413.1" r="4.47"/><circle cx="570.5" cy="413.1" r="4.47"/><circle cx="585.6" cy="413.1" r="4.47"/><circle cx="600.8" cy="413.1" r="4.47"/><circle cx="616.0" cy="413.1" r="4.47"/><circle cx="631.1" cy="413.1" r="4.47"/><circle cx="646.3" cy="413.1" r="4.47"/><circle cx="661.5" cy="413.1" r="4.47"/><circle cx="676.6" cy="413.1" r="4.47"/></g>
<g fill="url(#sgb)" opacity="0.9" filter="url(#blur1)"><circle cx="45.4" cy="418.0" r="5.00"/><circle cx="60.7" cy="418.0" r="5.00"/><circle cx="76.0" cy="418.0" r="5.00"/><circle cx="91.2" cy="418.0" r="5.00"/><circle cx="106.5" cy="418.0" r="5.00"/><circle cx="121.7" cy="418.0" r="5.00"/><circle cx="137.0" cy="418.0" r="5.00"/><circle cx="152.3" cy="418.0" r="5.00"/><circle cx="167.5" cy="418.0" r="5.00"/><circle cx="182.8" cy="418.0" r="5.00"/><circle cx="198.1" cy="418.0" r="5.00"/><circle cx="213.3" cy="418.0" r="5.00"/><circle cx="228.6" cy="418.0" r="5.00"/><circle cx="243.9" cy="418.0" r="5.00"/><circle cx="259.1" cy="418.0" r="5.00"/><circle cx="274.4" cy="418.0" r="5.00"/><circle cx="289.6" cy="418.0" r="5.00"/><circle cx="304.9" cy="418.0" r="5.00"/><circle cx="320.2" cy="418.0" r="5.00"/><circle cx="335.4" cy="418.0" r="5.00"/><circle cx="350.7" cy="418.0" r="5.00"/><circle cx="366.0" cy="418.0" r="5.00"/><circle cx="381.2" cy="418.0" r="5.00"/><circle cx="396.5" cy="418.0" r="5.00"/><circle cx="411.8" cy="418.0" r="5.00"/><circle cx="427.0" cy="418.0" r="5.00"/><circle cx="442.3" cy="418.0" r="5.00"/><circle cx="457.6" cy="418.0" r="5.00"/><circle cx="472.8" cy="418.0" r="5.00"/><circle cx="488.1" cy="418.0" r="5.00"/><circle cx="503.3" cy="418.0" r="5.00"/><circle cx="518.6" cy="418.0" r="5.00"/><circle cx="533.9" cy="418.0" r="5.00"/><circle cx="549.1" cy="418.0" r="5.00"/><circle cx="564.4" cy="418.0" r="5.00"/><circle cx="579.7" cy="418.0" r="5.00"/><circle cx="594.9" cy="418.0" r="5.00"/><circle cx="610.2" cy="418.0" r="5.00"/><circle cx="625.5" cy="418.0" r="5.00"/><circle cx="640.7" cy="418.0" r="5.00"/><circle cx="656.0" cy="418.0" r="5.00"/><circle cx="671.3" cy="418.0" r="5.00"/></g>
<polygon points="74.6,331.0 643.1,331.0 683.5,421.0 42.4,421.0" fill="#ffc8c8" opacity="0.07"/>
<linearGradient id="fadeL" x1="0" y1="0" x2="1" y2="0"><stop offset="0" stop-color="#fff" stop-opacity="0.55"/><stop offset="1" stop-color="#fff" stop-opacity="0"/></linearGradient>
<polygon points="60,350 42,421 160,421 110,380" fill="url(#fadeL)"/>
<ellipse cx="95" cy="375" rx="30" ry="10" fill="#ff4050" opacity="0.38" filter="url(#glow)"/>
<ellipse cx="250" cy="377" rx="30" ry="10" fill="#ff4050" opacity="0.38" filter="url(#glow)"/>
<ellipse cx="395" cy="377" rx="30" ry="10" fill="#ff4050" opacity="0.38" filter="url(#glow)"/>
<ellipse cx="545" cy="377" rx="30" ry="10" fill="#ff4050" opacity="0.38" filter="url(#glow)"/>
<path d="M68.5,336 C63,343 64.5,352 68.5,357 C74,366 84,373 92,377 C97,379.5 101,380.5 106,381.5 L111,368.5 C104,367.5 97,364.5 91,361 C84,356.5 77,349 71,339.5 Z" fill="rgba(232,40,60,0.55)" stroke="#ff1c30" stroke-width="1.2"/>
<path d="M68.5,336 C63,343 64.5,352 68.5,357 C74,366 84,373 92,377 C97,379.5 101,380.5 106,381.5" fill="none" stroke="#ff1c30" stroke-width="2.2"/>
<path d="M111.8,362.1 L144.7,375.4 L105.4,386.6 Z" fill="rgba(232,40,60,0.55)" stroke="#ff1c30" stroke-width="1.1" stroke-linejoin="round"/>
<circle cx="92" cy="370" r="5" fill="#ff8088" opacity="0.5" filter="url(#blur1)"/>
<path d="M277.5,320.2 L275.4,324 L266.6,337 L260.1,348.2 L252.1,356.2 L240.9,362.6 L229.6,365.8 L228.8,368 L232,371 L240,369.5 L250.5,365.8 L256.9,362.6 L263.4,356.2 L268.2,348.2 L273.8,337 L279.7,324 L279.8,320.4 Z" fill="rgba(232,40,60,0.55)" stroke="#ff1c30" stroke-width="1" stroke-linejoin="round"/>
<path d="M277.5,320.2 L275.4,324 L266.6,337 L260.1,348.2 L252.1,356.2 L240.9,362.6 L229.6,365.8 L228.8,368" fill="none" stroke="#ff1c30" stroke-width="1.6" stroke-linejoin="round"/>
<path d="M228.8,367.4 L259.8,370.9 L259.8,380.3 L228.8,380.3 Z" fill="rgba(232,40,60,0.55)" stroke="#ff1c30" stroke-width="1"/>
<line x1="228.8" y1="379.5" x2="259.8" y2="379.5" stroke="#ff1c30" stroke-width="2.2"/>
<line x1="229.60000000000002" y1="367.4" x2="229.60000000000002" y2="380.3" stroke="#ff1c30" stroke-width="1.6"/>
<path d="M259.3,373.1 L292.3,375.5 L261,384.3 Z" fill="rgba(232,40,60,0.55)" stroke="#ff1c30" stroke-width="1.1" stroke-linejoin="round"/>
<line x1="261" y1="384.3" x2="292.3" y2="375.5" stroke="#ff1c30" stroke-width="1.8"/>
<path d="M428.6,320.2 L426.4,321.7 L418.4,331.9 L409.6,346.5 L396.5,361 L386,365.5 L376,366.9 L378,372 L388,370.5 L398,367.5 L408.2,361 L421.3,346.5 L427,331.9 L430.2,320.8 Z" fill="rgba(232,40,60,0.55)" stroke="#ff1c30" stroke-width="1" stroke-linejoin="round"/>
<path d="M428.6,320.2 L426.4,321.7 L418.4,331.9 L409.6,346.5 L396.5,361 L386,365.5 L376,366.9" fill="none" stroke="#ff1c30" stroke-width="1.6" stroke-linejoin="round"/>
<path d="M376,366.9 L409,370.4 L409,380 L376,380 Z" fill="rgba(232,40,60,0.55)" stroke="#ff1c30" stroke-width="1"/>
<line x1="376" y1="379.2" x2="409" y2="379.2" stroke="#ff1c30" stroke-width="2.2"/>
<line x1="376.8" y1="366.9" x2="376.8" y2="380" stroke="#ff1c30" stroke-width="1.6"/>
<path d="M408.9,372 L444.7,372.8 L410.4,385.2 Z" fill="rgba(232,40,60,0.55)" stroke="#ff1c30" stroke-width="1.1" stroke-linejoin="round"/>
<line x1="410.4" y1="385.2" x2="444.7" y2="372.8" stroke="#ff1c30" stroke-width="1.8"/>
<path d="M578.7,320.4 L576.5,321.9 L569.2,329.2 L559,340.9 L551.7,351.1 L541.5,361.3 L532,365 L522.5,366.4 L525.4,373 L537,371.5 L547.3,367.2 L554.6,361.3 L562,351.1 L569.2,340.9 L576.5,329.2 L579.8,321 Z" fill="rgba(232,40,60,0.55)" stroke="#ff1c30" stroke-width="1" stroke-linejoin="round"/>
<path d="M578.7,320.4 L576.5,321.9 L569.2,329.2 L559,340.9 L551.7,351.1 L541.5,361.3 L532,365 L522.5,366.4" fill="none" stroke="#ff1c30" stroke-width="1.6" stroke-linejoin="round"/>
<path d="M522.5,366.4 L557,369.9 L557,379.6 L522.5,379.6 Z" fill="rgba(232,40,60,0.55)" stroke="#ff1c30" stroke-width="1"/>
<line x1="522.5" y1="378.8" x2="557" y2="378.8" stroke="#ff1c30" stroke-width="2.2"/>
<line x1="523.3" y1="366.4" x2="523.3" y2="379.6" stroke="#ff1c30" stroke-width="1.6"/>
<path d="M556.8,372.3 L590.4,373 L559,384.7 Z" fill="rgba(232,40,60,0.55)" stroke="#ff1c30" stroke-width="1.1" stroke-linejoin="round"/>
<line x1="559" y1="384.7" x2="590.4" y2="373" stroke="#ff1c30" stroke-width="1.8"/>
<g filter="url(#blur04)">
<line x1="40.4" y1="307.3" x2="44.5" y2="298.2" stroke="#e6d9a0" stroke-width="1.3"/>
<line x1="40.4" y1="307.3" x2="36.3" y2="316.1" stroke="#e6d9a0" stroke-width="1.3"/>
<line x1="59.5" y1="305.9" x2="55.1" y2="302.8" stroke="#e6d9a0" stroke-width="1.3"/>
<line x1="59.5" y1="305.9" x2="66.7" y2="299.6" stroke="#e6d9a0" stroke-width="1.3"/>
<line x1="43.8" y1="329.2" x2="39.2" y2="323.6" stroke="#e6d9a0" stroke-width="1.3"/>
<line x1="43.8" y1="329.2" x2="45.3" y2="325.3" stroke="#e6d9a0" stroke-width="1.3"/>
<line x1="75.9" y1="327.1" x2="69.3" y2="324.3" stroke="#e6d9a0" stroke-width="1.3"/>
<line x1="75.9" y1="327.1" x2="79.5" y2="319.2" stroke="#e6d9a0" stroke-width="1.3"/>
<line x1="69.9" y1="343.4" x2="62.2" y2="341.6" stroke="#e6d9a0" stroke-width="1.3"/>
<line x1="69.9" y1="343.4" x2="76.3" y2="352.8" stroke="#e6d9a0" stroke-width="1.3"/>
<line x1="96.7" y1="362.0" x2="89.3" y2="355.3" stroke="#e6d9a0" stroke-width="1.3"/>
<line x1="96.7" y1="362.0" x2="105.2" y2="362.0" stroke="#e6d9a0" stroke-width="1.3"/>
<line x1="126.3" y1="367.9" x2="127.3" y2="358.7" stroke="#e6d9a0" stroke-width="1.3"/>
<line x1="126.3" y1="367.9" x2="118.2" y2="368.5" stroke="#e6d9a0" stroke-width="1.3"/>
<line x1="148.3" y1="371.6" x2="148.7" y2="363.0" stroke="#e6d9a0" stroke-width="1.3"/>
<line x1="148.3" y1="371.6" x2="141.6" y2="372.0" stroke="#e6d9a0" stroke-width="1.3"/>
<line x1="160.6" y1="338.9" x2="151.8" y2="336.9" stroke="#e6d9a0" stroke-width="1.3"/>
<line x1="160.6" y1="338.9" x2="166.7" y2="337.3" stroke="#e6d9a0" stroke-width="1.3"/>
<line x1="151.4" y1="351.8" x2="146.3" y2="344.6" stroke="#e6d9a0" stroke-width="1.3"/>
<line x1="151.4" y1="351.8" x2="160.0" y2="349.7" stroke="#e6d9a0" stroke-width="1.3"/>
<line x1="158.3" y1="376.7" x2="164.0" y2="369.1" stroke="#e6d9a0" stroke-width="1.3"/>
<line x1="158.3" y1="376.7" x2="157.5" y2="380.7" stroke="#e6d9a0" stroke-width="1.3"/>
<line x1="138.1" y1="395.6" x2="146.7" y2="389.5" stroke="#e6d9a0" stroke-width="1.3"/>
<line x1="138.1" y1="395.6" x2="131.4" y2="397.7" stroke="#e6d9a0" stroke-width="1.3"/>
<line x1="158.5" y1="405.2" x2="153.8" y2="395.6" stroke="#e6d9a0" stroke-width="1.3"/>
<line x1="158.5" y1="405.2" x2="167.5" y2="403.2" stroke="#e6d9a0" stroke-width="1.3"/>
<line x1="175.3" y1="344.0" x2="171.2" y2="346.7" stroke="#e6d9a0" stroke-width="1.3"/>
<line x1="175.3" y1="344.0" x2="182.0" y2="337.9" stroke="#e6d9a0" stroke-width="1.3"/>
<line x1="184.4" y1="329.8" x2="184.4" y2="322.0" stroke="#e6d9a0" stroke-width="1.3"/>
<line x1="184.4" y1="329.8" x2="178.3" y2="328.7" stroke="#e6d9a0" stroke-width="1.3"/>
<line x1="201.8" y1="328.7" x2="193.6" y2="325.3" stroke="#e6d9a0" stroke-width="1.3"/>
<line x1="201.8" y1="328.7" x2="207.5" y2="322.0" stroke="#e6d9a0" stroke-width="1.3"/>
<line x1="211.5" y1="336.5" x2="209.3" y2="328.1" stroke="#e6d9a0" stroke-width="1.3"/>
<line x1="211.5" y1="336.5" x2="219.1" y2="335.9" stroke="#e6d9a0" stroke-width="1.3"/>
<line x1="186.1" y1="356.3" x2="178.7" y2="349.7" stroke="#e6d9a0" stroke-width="1.3"/>
<line x1="186.1" y1="356.3" x2="195.0" y2="352.2" stroke="#e6d9a0" stroke-width="1.3"/>
<line x1="198.7" y1="364.4" x2="202.4" y2="355.7" stroke="#e6d9a0" stroke-width="1.3"/>
<line x1="198.7" y1="364.4" x2="201.4" y2="367.1" stroke="#e6d9a0" stroke-width="1.3"/>
<line x1="218.5" y1="354.2" x2="210.3" y2="356.9" stroke="#e6d9a0" stroke-width="1.3"/>
<line x1="218.5" y1="354.2" x2="226.7" y2="353.6" stroke="#e6d9a0" stroke-width="1.3"/>
<line x1="178.9" y1="386.5" x2="176.3" y2="377.7" stroke="#e6d9a0" stroke-width="1.3"/>
<line x1="178.9" y1="386.5" x2="186.5" y2="385.8" stroke="#e6d9a0" stroke-width="1.3"/>
<line x1="174.8" y1="395.6" x2="168.7" y2="393.6" stroke="#e6d9a0" stroke-width="1.3"/>
<line x1="174.8" y1="395.6" x2="185.4" y2="395.0" stroke="#e6d9a0" stroke-width="1.3"/>
<line x1="196.7" y1="403.8" x2="199.3" y2="394.0" stroke="#e6d9a0" stroke-width="1.3"/>
<line x1="196.7" y1="403.8" x2="201.2" y2="406.2" stroke="#e6d9a0" stroke-width="1.3"/>
<line x1="218.5" y1="377.7" x2="210.3" y2="378.7" stroke="#e6d9a0" stroke-width="1.3"/>
<line x1="218.5" y1="377.7" x2="226.1" y2="372.6" stroke="#e6d9a0" stroke-width="1.3"/>
<line x1="218.7" y1="397.7" x2="213.6" y2="388.5" stroke="#e6d9a0" stroke-width="1.3"/>
<line x1="218.7" y1="397.7" x2="228.2" y2="396.4" stroke="#e6d9a0" stroke-width="1.3"/>
<line x1="300.1" y1="343.0" x2="293.0" y2="335.9" stroke="#e6d9a0" stroke-width="1.3"/>
<line x1="292.4" y1="354.8" x2="299.1" y2="350.8" stroke="#e6d9a0" stroke-width="1.3"/>
<line x1="294.8" y1="371.6" x2="288.9" y2="371.6" stroke="#e6d9a0" stroke-width="1.3"/>
<line x1="294.8" y1="371.6" x2="293.8" y2="362.8" stroke="#e6d9a0" stroke-width="1.3"/>
<line x1="305.2" y1="379.7" x2="309.3" y2="370.0" stroke="#e6d9a0" stroke-width="1.3"/>
<line x1="289.3" y1="397.7" x2="296.5" y2="390.3" stroke="#e6d9a0" stroke-width="1.3"/>
<line x1="311.4" y1="407.3" x2="306.7" y2="397.1" stroke="#e6d9a0" stroke-width="1.3"/>
<line x1="321.3" y1="331.4" x2="314.8" y2="323.6" stroke="#e6d9a0" stroke-width="1.3"/>
<line x1="313.8" y1="346.5" x2="316.9" y2="344.6" stroke="#e6d9a0" stroke-width="1.3"/>
<line x1="328.1" y1="358.7" x2="334.2" y2="351.8" stroke="#e6d9a0" stroke-width="1.3"/>
<line x1="327.1" y1="388.9" x2="333.8" y2="385.4" stroke="#e6d9a0" stroke-width="1.3"/>
<line x1="329.1" y1="401.1" x2="321.6" y2="398.1" stroke="#e6d9a0" stroke-width="1.3"/>
<line x1="329.1" y1="401.1" x2="338.8" y2="400.1" stroke="#e6d9a0" stroke-width="1.3"/>
<line x1="342.2" y1="327.7" x2="346.3" y2="319.2" stroke="#e6d9a0" stroke-width="1.3"/>
<line x1="349.0" y1="338.9" x2="356.1" y2="335.3" stroke="#e6d9a0" stroke-width="1.3"/>
<line x1="361.6" y1="354.2" x2="352.8" y2="356.9" stroke="#e6d9a0" stroke-width="1.3"/>
<line x1="361.6" y1="354.2" x2="368.7" y2="353.8" stroke="#e6d9a0" stroke-width="1.3"/>
<line x1="342.2" y1="367.1" x2="344.7" y2="365.9" stroke="#e6d9a0" stroke-width="1.3"/>
<line x1="350.0" y1="402.6" x2="351.4" y2="391.5" stroke="#e6d9a0" stroke-width="1.3"/>
<line x1="364.7" y1="379.7" x2="359.0" y2="378.1" stroke="#e6d9a0" stroke-width="1.3"/>
<line x1="370.8" y1="397.5" x2="365.7" y2="388.3" stroke="#e6d9a0" stroke-width="1.3"/>
<line x1="370.8" y1="397.5" x2="381.0" y2="396.4" stroke="#e6d9a0" stroke-width="1.3"/>
<line x1="398.9" y1="353.6" x2="395.9" y2="349.7" stroke="#e6d9a0" stroke-width="1.3"/>
<line x1="398.9" y1="353.6" x2="393.2" y2="352.2" stroke="#e6d9a0" stroke-width="1.3"/>
<line x1="414.6" y1="322.6" x2="405.0" y2="322.6" stroke="#e6d9a0" stroke-width="1.3"/>
<line x1="414.6" y1="322.6" x2="419.7" y2="312.4" stroke="#e6d9a0" stroke-width="1.3"/>
<line x1="440.1" y1="342.6" x2="432.6" y2="335.9" stroke="#e6d9a0" stroke-width="1.3"/>
<line x1="434.6" y1="354.8" x2="441.7" y2="350.8" stroke="#e6d9a0" stroke-width="1.3"/>
<line x1="440.7" y1="398.1" x2="448.2" y2="390.3" stroke="#e6d9a0" stroke-width="1.3"/>
<line x1="458.4" y1="331.4" x2="451.6" y2="324.1" stroke="#e6d9a0" stroke-width="1.3"/>
<line x1="478.1" y1="327.7" x2="481.8" y2="319.2" stroke="#e6d9a0" stroke-width="1.3"/>
<line x1="487.5" y1="338.9" x2="494.6" y2="335.5" stroke="#e6d9a0" stroke-width="1.3"/>
<line x1="453.9" y1="346.7" x2="458.4" y2="345.5" stroke="#e6d9a0" stroke-width="1.3"/>
<line x1="471.0" y1="358.9" x2="478.3" y2="352.8" stroke="#e6d9a0" stroke-width="1.3"/>
<line x1="486.5" y1="367.1" x2="490.6" y2="366.5" stroke="#e6d9a0" stroke-width="1.3"/>
<line x1="452.8" y1="379.7" x2="456.7" y2="370.5" stroke="#e6d9a0" stroke-width="1.3"/>
<line x1="476.7" y1="388.9" x2="484.9" y2="385.8" stroke="#e6d9a0" stroke-width="1.3"/>
<line x1="465.1" y1="407.3" x2="459.8" y2="397.5" stroke="#e6d9a0" stroke-width="1.3"/>
<line x1="511.8" y1="380.1" x2="506.9" y2="378.1" stroke="#e6d9a0" stroke-width="1.3"/>
<line x1="502.2" y1="402.2" x2="503.2" y2="391.3" stroke="#e6d9a0" stroke-width="1.3"/>
<circle cx="40.4" cy="307.3" r="3.75" fill="url(#og)"/>
<circle cx="44.5" cy="298.2" r="2.8" fill="url(#bg)"/>
<circle cx="36.3" cy="316.1" r="2.8" fill="url(#bg)"/>
<circle cx="59.5" cy="305.9" r="3.75" fill="url(#og)"/>
<circle cx="55.1" cy="302.8" r="2.8" fill="url(#bg)"/>
<circle cx="66.7" cy="299.6" r="2.8" fill="url(#bg)"/>
<circle cx="43.8" cy="329.2" r="3.75" fill="url(#og)"/>
<circle cx="39.2" cy="323.6" r="2.8" fill="url(#bg)"/>
<circle cx="45.3" cy="325.3" r="2.8" fill="url(#bg)"/>
<circle cx="75.9" cy="327.1" r="3.75" fill="url(#og)"/>
<circle cx="69.3" cy="324.3" r="2.8" fill="url(#bg)"/>
<circle cx="79.5" cy="319.2" r="2.8" fill="url(#bg)"/>
<circle cx="69.9" cy="343.4" r="3.75" fill="url(#og)"/>
<circle cx="62.2" cy="341.6" r="2.8" fill="url(#bg)"/>
<circle cx="76.3" cy="352.8" r="2.8" fill="url(#bg)"/>
<circle cx="96.7" cy="362.0" r="3.75" fill="url(#og)"/>
<circle cx="89.3" cy="355.3" r="2.8" fill="url(#bg)"/>
<circle cx="105.2" cy="362.0" r="2.8" fill="url(#bg)"/>
<circle cx="126.3" cy="367.9" r="3.75" fill="url(#og)"/>
<circle cx="127.3" cy="358.7" r="2.8" fill="url(#bg)"/>
<circle cx="118.2" cy="368.5" r="2.8" fill="url(#bg)"/>
<circle cx="148.3" cy="371.6" r="3.75" fill="url(#og)"/>
<circle cx="148.7" cy="363.0" r="2.8" fill="url(#bg)"/>
<circle cx="141.6" cy="372.0" r="2.8" fill="url(#bg)"/>
<circle cx="160.6" cy="338.9" r="3.75" fill="url(#og)"/>
<circle cx="151.8" cy="336.9" r="2.8" fill="url(#bg)"/>
<circle cx="166.7" cy="337.3" r="2.8" fill="url(#bg)"/>
<circle cx="151.4" cy="351.8" r="3.75" fill="url(#og)"/>
<circle cx="146.3" cy="344.6" r="2.8" fill="url(#bg)"/>
<circle cx="160.0" cy="349.7" r="2.8" fill="url(#bg)"/>
<circle cx="158.3" cy="376.7" r="3.75" fill="url(#og)"/>
<circle cx="164.0" cy="369.1" r="2.8" fill="url(#bg)"/>
<circle cx="157.5" cy="380.7" r="2.8" fill="url(#bg)"/>
<circle cx="138.1" cy="395.6" r="3.75" fill="url(#og)"/>
<circle cx="146.7" cy="389.5" r="2.8" fill="url(#bg)"/>
<circle cx="131.4" cy="397.7" r="2.8" fill="url(#bg)"/>
<circle cx="158.5" cy="405.2" r="3.75" fill="url(#og)"/>
<circle cx="153.8" cy="395.6" r="2.8" fill="url(#bg)"/>
<circle cx="167.5" cy="403.2" r="2.8" fill="url(#bg)"/>
<circle cx="175.3" cy="344.0" r="3.75" fill="url(#og)"/>
<circle cx="171.2" cy="346.7" r="2.8" fill="url(#bg)"/>
<circle cx="182.0" cy="337.9" r="2.8" fill="url(#bg)"/>
<circle cx="184.4" cy="329.8" r="3.75" fill="url(#og)"/>
<circle cx="184.4" cy="322.0" r="2.8" fill="url(#bg)"/>
<circle cx="178.3" cy="328.7" r="2.8" fill="url(#bg)"/>
<circle cx="201.8" cy="328.7" r="3.75" fill="url(#og)"/>
<circle cx="193.6" cy="325.3" r="2.8" fill="url(#bg)"/>
<circle cx="207.5" cy="322.0" r="2.8" fill="url(#bg)"/>
<circle cx="211.5" cy="336.5" r="3.75" fill="url(#og)"/>
<circle cx="209.3" cy="328.1" r="2.8" fill="url(#bg)"/>
<circle cx="219.1" cy="335.9" r="2.8" fill="url(#bg)"/>
<circle cx="186.1" cy="356.3" r="3.75" fill="url(#og)"/>
<circle cx="178.7" cy="349.7" r="2.8" fill="url(#bg)"/>
<circle cx="195.0" cy="352.2" r="2.8" fill="url(#bg)"/>
<circle cx="198.7" cy="364.4" r="3.75" fill="url(#og)"/>
<circle cx="202.4" cy="355.7" r="2.8" fill="url(#bg)"/>
<circle cx="201.4" cy="367.1" r="2.8" fill="url(#bg)"/>
<circle cx="218.5" cy="354.2" r="3.75" fill="url(#og)"/>
<circle cx="210.3" cy="356.9" r="2.8" fill="url(#bg)"/>
<circle cx="226.7" cy="353.6" r="2.8" fill="url(#bg)"/>
<circle cx="178.9" cy="386.5" r="3.75" fill="url(#og)"/>
<circle cx="176.3" cy="377.7" r="2.8" fill="url(#bg)"/>
<circle cx="186.5" cy="385.8" r="2.8" fill="url(#bg)"/>
<circle cx="174.8" cy="395.6" r="3.75" fill="url(#og)"/>
<circle cx="168.7" cy="393.6" r="2.8" fill="url(#bg)"/>
<circle cx="185.4" cy="395.0" r="2.8" fill="url(#bg)"/>
<circle cx="196.7" cy="403.8" r="3.75" fill="url(#og)"/>
<circle cx="199.3" cy="394.0" r="2.8" fill="url(#bg)"/>
<circle cx="201.2" cy="406.2" r="2.8" fill="url(#bg)"/>
<circle cx="218.5" cy="377.7" r="3.75" fill="url(#og)"/>
<circle cx="210.3" cy="378.7" r="2.8" fill="url(#bg)"/>
<circle cx="226.1" cy="372.6" r="2.8" fill="url(#bg)"/>
<circle cx="218.7" cy="397.7" r="3.75" fill="url(#og)"/>
<circle cx="213.6" cy="388.5" r="2.8" fill="url(#bg)"/>
<circle cx="228.2" cy="396.4" r="2.8" fill="url(#bg)"/>
<circle cx="300.1" cy="343.0" r="3.75" fill="url(#og)"/>
<circle cx="293.0" cy="335.9" r="2.8" fill="url(#bg)"/>
<circle cx="292.4" cy="354.8" r="3.75" fill="url(#og)"/>
<circle cx="299.1" cy="350.8" r="2.8" fill="url(#bg)"/>
<circle cx="294.8" cy="371.6" r="3.75" fill="url(#og)"/>
<circle cx="288.9" cy="371.6" r="2.8" fill="url(#bg)"/>
<circle cx="293.8" cy="362.8" r="2.8" fill="url(#bg)"/>
<circle cx="305.2" cy="379.7" r="3.75" fill="url(#og)"/>
<circle cx="309.3" cy="370.0" r="2.8" fill="url(#bg)"/>
<circle cx="289.3" cy="397.7" r="3.75" fill="url(#og)"/>
<circle cx="296.5" cy="390.3" r="2.8" fill="url(#bg)"/>
<circle cx="311.4" cy="407.3" r="3.75" fill="url(#og)"/>
<circle cx="306.7" cy="397.1" r="2.8" fill="url(#bg)"/>
<circle cx="321.3" cy="331.4" r="3.75" fill="url(#og)"/>
<circle cx="314.8" cy="323.6" r="2.8" fill="url(#bg)"/>
<circle cx="313.8" cy="346.5" r="3.75" fill="url(#og)"/>
<circle cx="316.9" cy="344.6" r="2.8" fill="url(#bg)"/>
<circle cx="328.1" cy="358.7" r="3.75" fill="url(#og)"/>
<circle cx="334.2" cy="351.8" r="2.8" fill="url(#bg)"/>
<circle cx="327.1" cy="388.9" r="3.75" fill="url(#og)"/>
<circle cx="333.8" cy="385.4" r="2.8" fill="url(#bg)"/>
<circle cx="329.1" cy="401.1" r="3.75" fill="url(#og)"/>
<circle cx="321.6" cy="398.1" r="2.8" fill="url(#bg)"/>
<circle cx="338.8" cy="400.1" r="2.8" fill="url(#bg)"/>
<circle cx="342.2" cy="327.7" r="3.75" fill="url(#og)"/>
<circle cx="346.3" cy="319.2" r="2.8" fill="url(#bg)"/>
<circle cx="349.0" cy="338.9" r="3.75" fill="url(#og)"/>
<circle cx="356.1" cy="335.3" r="2.8" fill="url(#bg)"/>
<circle cx="361.6" cy="354.2" r="3.75" fill="url(#og)"/>
<circle cx="352.8" cy="356.9" r="2.8" fill="url(#bg)"/>
<circle cx="368.7" cy="353.8" r="2.8" fill="url(#bg)"/>
<circle cx="342.2" cy="367.1" r="3.75" fill="url(#og)"/>
<circle cx="344.7" cy="365.9" r="2.8" fill="url(#bg)"/>
<circle cx="350.0" cy="402.6" r="3.75" fill="url(#og)"/>
<circle cx="351.4" cy="391.5" r="2.8" fill="url(#bg)"/>
<circle cx="364.7" cy="379.7" r="3.75" fill="url(#og)"/>
<circle cx="359.0" cy="378.1" r="2.8" fill="url(#bg)"/>
<circle cx="370.8" cy="397.5" r="3.75" fill="url(#og)"/>
<circle cx="365.7" cy="388.3" r="2.8" fill="url(#bg)"/>
<circle cx="381.0" cy="396.4" r="2.8" fill="url(#bg)"/>
<circle cx="398.9" cy="353.6" r="3.75" fill="url(#og)"/>
<circle cx="395.9" cy="349.7" r="2.8" fill="url(#bg)"/>
<circle cx="393.2" cy="352.2" r="2.8" fill="url(#bg)"/>
<circle cx="414.6" cy="322.6" r="3.75" fill="url(#og)"/>
<circle cx="405.0" cy="322.6" r="2.8" fill="url(#bg)"/>
<circle cx="419.7" cy="312.4" r="2.8" fill="url(#bg)"/>
<circle cx="440.1" cy="342.6" r="3.75" fill="url(#og)"/>
<circle cx="432.6" cy="335.9" r="2.8" fill="url(#bg)"/>
<circle cx="434.6" cy="354.8" r="3.75" fill="url(#og)"/>
<circle cx="441.7" cy="350.8" r="2.8" fill="url(#bg)"/>
<circle cx="440.7" cy="398.1" r="3.75" fill="url(#og)"/>
<circle cx="448.2" cy="390.3" r="2.8" fill="url(#bg)"/>
<circle cx="458.4" cy="331.4" r="3.75" fill="url(#og)"/>
<circle cx="451.6" cy="324.1" r="2.8" fill="url(#bg)"/>
<circle cx="478.1" cy="327.7" r="3.75" fill="url(#og)"/>
<circle cx="481.8" cy="319.2" r="2.8" fill="url(#bg)"/>
<circle cx="487.5" cy="338.9" r="3.75" fill="url(#og)"/>
<circle cx="494.6" cy="335.5" r="2.8" fill="url(#bg)"/>
<circle cx="453.9" cy="346.7" r="3.75" fill="url(#og)"/>
<circle cx="458.4" cy="345.5" r="2.8" fill="url(#bg)"/>
<circle cx="471.0" cy="358.9" r="3.75" fill="url(#og)"/>
<circle cx="478.3" cy="352.8" r="2.8" fill="url(#bg)"/>
<circle cx="486.5" cy="367.1" r="3.75" fill="url(#og)"/>
<circle cx="490.6" cy="366.5" r="2.8" fill="url(#bg)"/>
<circle cx="452.8" cy="379.7" r="3.75" fill="url(#og)"/>
<circle cx="456.7" cy="370.5" r="2.8" fill="url(#bg)"/>
<circle cx="476.7" cy="388.9" r="3.75" fill="url(#og)"/>
<circle cx="484.9" cy="385.8" r="2.8" fill="url(#bg)"/>
<circle cx="465.1" cy="407.3" r="3.75" fill="url(#og)"/>
<circle cx="459.8" cy="397.5" r="2.8" fill="url(#bg)"/>
<circle cx="511.8" cy="380.1" r="3.75" fill="url(#og)"/>
<circle cx="506.9" cy="378.1" r="2.8" fill="url(#bg)"/>
<circle cx="502.2" cy="402.2" r="3.75" fill="url(#og)"/>
<circle cx="503.2" cy="391.3" r="2.8" fill="url(#bg)"/>
<circle cx="279.5" cy="305.3" r="2.8" fill="url(#bg)"/>
<circle cx="266.5" cy="329.2" r="2.8" fill="url(#bg)"/>
<circle cx="259.4" cy="342.0" r="2.8" fill="url(#bg)"/>
<circle cx="244.1" cy="361.0" r="2.8" fill="url(#bg)"/>
<circle cx="442.0" cy="351.2" r="2.8" fill="url(#bg)"/>
<circle cx="533.8" cy="364.6" r="2.8" fill="url(#bg)"/>
<circle cx="551.1" cy="346.1" r="2.8" fill="url(#bg)"/>
<circle cx="573.5" cy="309.4" r="2.8" fill="url(#bg)"/>
<circle cx="562.2" cy="332.8" r="2.8" fill="url(#bg)"/>
<circle cx="551.6" cy="345.5" r="2.8" fill="url(#bg)"/>
<line x1="594.5" y1="333.8" x2="594.5" y2="337.8" stroke="#d8cf95" stroke-width="1"/>
<circle cx="594.5" cy="331.8" r="3.75" fill="url(#og)"/>
<line x1="613.2" y1="329.7" x2="613.2" y2="333.7" stroke="#d8cf95" stroke-width="1"/>
<circle cx="613.2" cy="327.7" r="3.75" fill="url(#og)"/>
<line x1="625.0" y1="340.9" x2="625.0" y2="344.9" stroke="#d8cf95" stroke-width="1"/>
<circle cx="625.0" cy="338.9" r="3.75" fill="url(#og)"/>
<line x1="578.5" y1="345.0" x2="578.5" y2="349.0" stroke="#d8cf95" stroke-width="1"/>
<circle cx="578.5" cy="343.0" r="3.75" fill="url(#og)"/>
<line x1="593.8" y1="348.7" x2="593.8" y2="352.7" stroke="#d8cf95" stroke-width="1"/>
<circle cx="593.8" cy="346.7" r="3.75" fill="url(#og)"/>
<line x1="576.1" y1="356.8" x2="576.1" y2="360.8" stroke="#d8cf95" stroke-width="1"/>
<circle cx="576.1" cy="354.8" r="3.75" fill="url(#og)"/>
<line x1="613.2" y1="360.9" x2="613.2" y2="364.9" stroke="#d8cf95" stroke-width="1"/>
<circle cx="613.2" cy="358.9" r="3.75" fill="url(#og)"/>
<line x1="631.2" y1="369.1" x2="631.2" y2="373.1" stroke="#d8cf95" stroke-width="1"/>
<circle cx="631.2" cy="367.1" r="3.75" fill="url(#og)"/>
<line x1="600.0" y1="381.7" x2="600.0" y2="385.7" stroke="#d8cf95" stroke-width="1"/>
<circle cx="600.0" cy="379.7" r="3.75" fill="url(#og)"/>
<line x1="658.5" y1="382.1" x2="658.5" y2="386.1" stroke="#d8cf95" stroke-width="1"/>
<circle cx="658.5" cy="380.1" r="3.75" fill="url(#og)"/>
<line x1="625.9" y1="390.9" x2="625.9" y2="394.9" stroke="#d8cf95" stroke-width="1"/>
<circle cx="625.9" cy="388.9" r="3.75" fill="url(#og)"/>
<line x1="591.8" y1="399.7" x2="591.8" y2="403.7" stroke="#d8cf95" stroke-width="1"/>
<circle cx="591.8" cy="397.7" r="3.75" fill="url(#og)"/>
<line x1="654.4" y1="404.2" x2="654.4" y2="408.2" stroke="#d8cf95" stroke-width="1"/>
<circle cx="654.4" cy="402.2" r="3.75" fill="url(#og)"/>
<line x1="618.3" y1="409.3" x2="618.3" y2="413.3" stroke="#d8cf95" stroke-width="1"/>
<circle cx="618.3" cy="407.3" r="3.75" fill="url(#og)"/>
</g>
<circle cx="87.6" cy="286.9" r="5.1" fill="url(#og)"/>
<text x="98.10" y="290.80" font-size="11" text-anchor="start" fill="#0a0a0a" font-weight="normal" >Metal</text>
<circle cx="144.5" cy="287.0" r="3.3" fill="url(#bg)"/>
<text x="152.70" y="290.80" font-size="11" text-anchor="start" fill="#0a0a0a" font-weight="normal" >Ligand</text>
<text x="0.00" y="342.00" font-size="11" text-anchor="start" fill="#0a0a0a" font-weight="normal" >Metal</text>
<text x="0.00" y="354.20" font-size="11" text-anchor="start" fill="#0a0a0a" font-weight="normal" >precursor</text>
<text x="0.00" y="415.40" font-size="11" text-anchor="start" fill="#0a0a0a" font-weight="normal" >Carrier</text>
<text x="284.90" y="286.80" font-size="11" text-anchor="middle" fill="#0a0a0a" font-weight="normal" >Controllable</text>
<text x="283.30" y="299.40" font-size="11" text-anchor="middle" fill="#0a0a0a" font-weight="normal" >anchoring</text>
<text x="418.00" y="286.80" font-size="11" text-anchor="middle" fill="#0a0a0a" font-weight="normal" >Removal of</text>
<text x="419.20" y="299.40" font-size="11" text-anchor="middle" fill="#0a0a0a" font-weight="normal" >unbound metal</text>
<text x="570.90" y="286.80" font-size="11" text-anchor="middle" fill="#0a0a0a" font-weight="normal" >Complete</text>
<text x="572.80" y="299.40" font-size="11" text-anchor="middle" fill="#0a0a0a" font-weight="normal" >ligand removal</text>
<text x="103.00" y="435.20" font-size="11" text-anchor="middle" fill="#3c6aa0" font-weight="normal" >Deposition</text>
<text x="259.00" y="435.40" font-size="11" text-anchor="middle" fill="#3c6aa0" font-weight="normal" >Low-temperature</text>
<text x="259.00" y="448.00" font-size="11" text-anchor="middle" fill="#3c6aa0" font-weight="normal" >annealing (<tspan font-style="italic">T</tspan><tspan font-size="8" dy="2.5">1</tspan><tspan dy="-2.5">)</tspan></text>
<text x="412.00" y="435.20" font-size="11" text-anchor="middle" fill="#3c6aa0" font-weight="normal" >Washing</text>
<text x="563.50" y="435.40" font-size="11" text-anchor="middle" fill="#3c6aa0" font-weight="normal" >High-temperature</text>
<text x="563.50" y="448.00" font-size="11" text-anchor="middle" fill="#3c6aa0" font-weight="normal" >annealing (<tspan font-style="italic">T</tspan><tspan font-size="8" dy="2.5">2</tspan><tspan dy="-2.5">)</tspan></text>
</svg>
</body></html>
